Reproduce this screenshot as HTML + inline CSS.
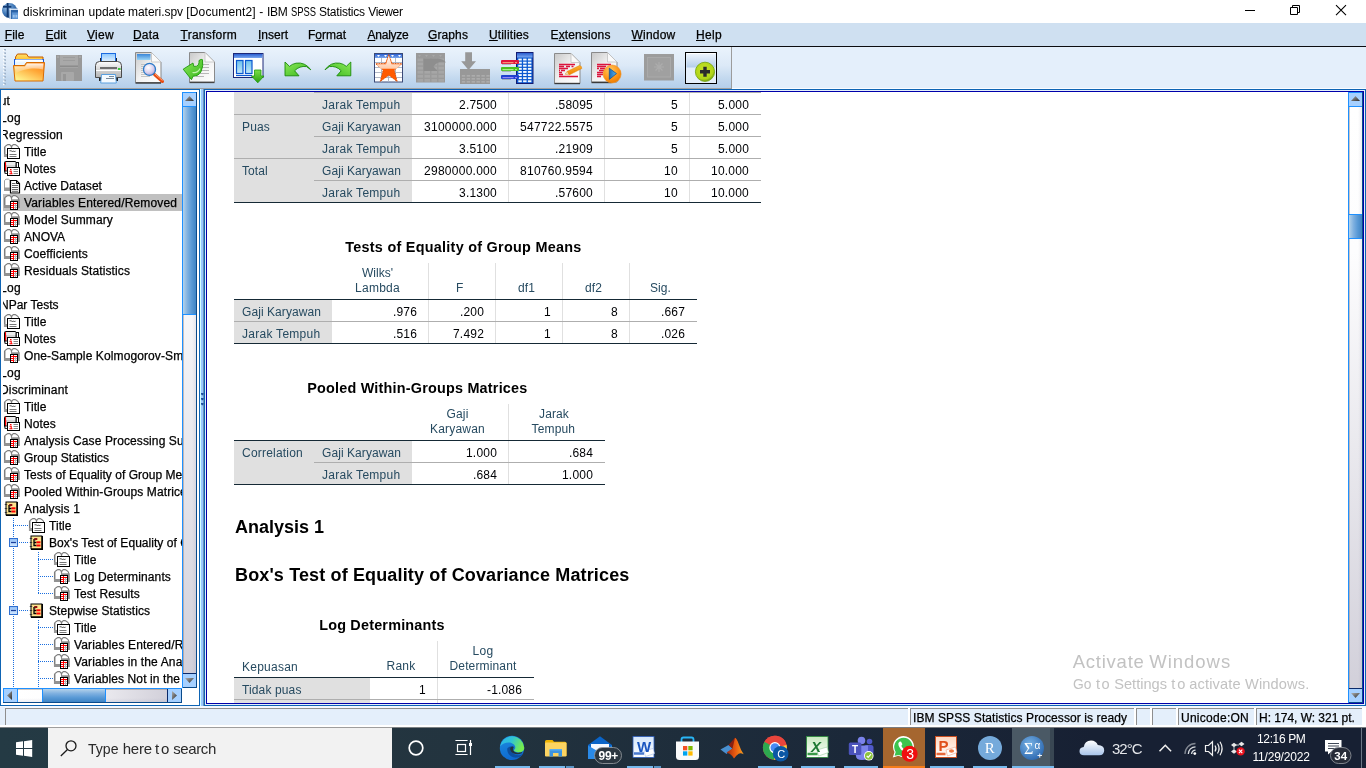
<!DOCTYPE html>
<html lang="en"><head><meta charset="utf-8"><title>diskriminan update materi.spv [Document2] - IBM SPSS Statistics Viewer</title>
<style>
html,body{margin:0;padding:0;}
body{width:1366px;height:768px;overflow:hidden;position:relative;background:#fff;font-family:"Liberation Sans",sans-serif;color:#000;}
.b{position:absolute;}
.t{position:absolute;white-space:pre;}
svg{position:absolute;overflow:visible;}
.clip{position:absolute;overflow:hidden;}
.m{font-size:12px;line-height:15px;}
.m u{text-decoration:underline;text-underline-offset:1px;}
.vsb{width:15px;background:#fff;box-sizing:border-box;border-left:1px solid #1e90ff;border-right:1px solid #0a4a8a;}
.vtr{left:0;width:13px;box-sizing:border-box;background:linear-gradient(90deg,rgba(120,100,90,.55) 0,rgba(255,255,255,0) 1.5px,rgba(255,255,255,0) 70%,rgba(120,120,150,.12) 100%),linear-gradient(180deg,#fff 0%,#fdfdfe 25%,#d2d0da 100%);}
.vth{left:0;width:13px;box-sizing:border-box;border-top:1px solid #1e90ff;border-bottom:1px solid #1e90ff;background:linear-gradient(90deg,#b4d2ea 0%,#7eb0e0 35%,#5a9ad6 65%,#3f84c4 100%);}
.sbtn{left:0;width:13px;height:15px;background:#a6d0ff;box-sizing:border-box;border-top:1px solid #1e90ff;border-bottom:1px solid #1e90ff;}
.sbtn.dn{border-top-color:#0a2a6a;border-bottom-color:#0a4a8a;height:15px;}
.sbtn svg{left:0;top:0;}
.hsb{height:15px;background:#fff;box-sizing:border-box;border-top:1px solid #1e90ff;border-bottom:1px solid #0a4a8a;}
.htr{top:0;height:13px;box-sizing:border-box;background:linear-gradient(180deg,rgba(120,100,90,.55) 0,rgba(255,255,255,0) 1.5px,rgba(255,255,255,0) 70%,rgba(120,120,150,.12) 100%),linear-gradient(90deg,#fff 0%,#fdfdfe 25%,#d2d0da 100%);}
.hth{top:0;height:13px;box-sizing:border-box;border-left:1px solid #1e90ff;border-right:1px solid #1e90ff;background:linear-gradient(180deg,#b4d2ea 0%,#7eb0e0 35%,#5a9ad6 65%,#3f84c4 100%);}
.sbtnh{top:0;width:15px;height:13px;background:#a6d0ff;box-sizing:border-box;border-left:1px solid #1e90ff;border-right:1px solid #1e90ff;}
.sbtnh.rt{border-left-color:#0a2a6a;border-right-color:#0a4a8a;}
.sbtnh svg{left:0;top:0;}
.j{-webkit-text-stroke:0.25px #000;}

</style></head>
<body>
<svg width="0" height="0" style="left:0;top:0"><defs><linearGradient id="arg" x1="0" y1="0" x2="1" y2="1"><stop offset="0" stop-color="#b0b0b0"/><stop offset="1" stop-color="#2a2a2a"/></linearGradient></defs></svg>
<!-- title bar -->
<div class="b" style="left:0px;top:0px;width:1366px;height:23px;background:#fff;"></div>
<svg style="left:2px;top:3px" width="16" height="16" viewBox="0 0 17 17"><defs><radialGradient id="tig" cx="35%" cy="30%" r="80%"><stop offset="0" stop-color="#9fc4ea"/><stop offset="0.55" stop-color="#3f78b8"/><stop offset="1" stop-color="#1d4a86"/></radialGradient></defs><circle cx="8" cy="8" r="8" fill="url(#tig)"/><rect x="5" y="0" width="2" height="15" fill="#123a72"/><rect x="1" y="3" width="9" height="2" fill="#123a72"/><rect x="8" y="6" width="9" height="11" fill="#2c63a6"/><rect x="8" y="6" width="9" height="1.3" fill="#e8f1fb"/><rect x="8" y="6" width="1.3" height="11" fill="#e8f1fb"/><rect x="10.5" y="10" width="6.5" height="7" fill="#5b93d2"/><rect x="11.5" y="12.5" width="2" height="3" fill="#9cc3ee"/><rect x="14.3" y="12.5" width="2" height="3" fill="#9cc3ee"/></svg>
<span class="t seg" style="left:23.10px;top:5.00px;font-size:12px;line-height:14px;letter-spacing:0.091px;">diskriminan</span>
<span class="t seg" style="left:88.50px;top:5.00px;font-size:12px;line-height:14px;letter-spacing:0.019px;">update</span>
<span class="t seg" style="left:128.00px;top:5.00px;font-size:12px;line-height:14px;letter-spacing:-0.028px;">materi.spv</span>
<span class="t seg" style="left:186.30px;top:5.00px;font-size:12px;line-height:14px;letter-spacing:0.137px;">[Document2]</span>
<span class="t seg" style="left:259.20px;top:5.00px;font-size:12px;line-height:14px;">-</span>
<span class="t seg" style="left:266.90px;top:5.00px;font-size:12px;line-height:14px;letter-spacing:-0.217px;">IBM</span>
<span class="t seg" style="left:291.00px;top:5.00px;font-size:12px;line-height:14px;transform:scaleX(0.781);transform-origin:0 0;">SPSS</span>
<span class="t seg" style="left:318.90px;top:5.00px;font-size:12px;line-height:14px;letter-spacing:-0.201px;">Statistics</span>
<span class="t seg" style="left:368.30px;top:5.00px;font-size:12px;line-height:14px;letter-spacing:-0.376px;">Viewer</span>
<svg style="left:1230px;top:0" width="136" height="23" viewBox="0 0 136 23" fill="none" stroke="#000" stroke-width="1"><path d="M15 10.500H25"/><path d="M60.500 7.500h7v7h-7z"/><path d="M62.500 7.500v-2h7v7h-2"/><path d="M106 5.200l10 10M116 5.200l-10 10" stroke-width="1.100"/></svg>
<!-- menu bar -->
<div class="b" style="left:0px;top:23px;width:1366px;height:23px;background:#cfe0f1;"></div>
<div class="b" style="left:0px;top:46px;width:1366px;height:1px;background:#0c0c10;"></div>
<span class="t m j" style="left:4.7px;top:28px;letter-spacing:0.166px"><u>F</u>ile</span>
<span class="t m j" style="left:45.5px;top:28px;letter-spacing:0.081px"><u>E</u>dit</span>
<span class="t m j" style="left:87px;top:28px;letter-spacing:0.248px"><u>V</u>iew</span>
<span class="t m j" style="left:133px;top:28px;letter-spacing:0.163px"><u>D</u>ata</span>
<span class="t m j" style="left:180.5px;top:28px;letter-spacing:0.258px"><u>T</u>ransform</span>
<span class="t m j" style="left:258px;top:28px;letter-spacing:-0.002px"><u>I</u>nsert</span>
<span class="t m j" style="left:308px;top:28px;letter-spacing:-0.001px">F<u>o</u>rmat</span>
<span class="t m j" style="left:367.5px;top:28px;letter-spacing:-0.242px"><u>A</u>nalyze</span>
<span class="t m j" style="left:428px;top:28px;letter-spacing:0.108px"><u>G</u>raphs</span>
<span class="t m j" style="left:489px;top:28px;letter-spacing:0.148px"><u>U</u>tilities</span>
<span class="t m j" style="left:550.5px;top:28px;letter-spacing:0.130px">E<u>x</u>tensions</span>
<span class="t m j" style="left:631.5px;top:28px;letter-spacing:0.220px"><u>W</u>indow</span>
<span class="t m j" style="left:696px;top:28px;letter-spacing:0.330px"><u>H</u>elp</span>
<!-- toolbar -->
<div class="b" style="left:0px;top:47px;width:1366px;height:42px;background:#e4effb;"></div>
<div class="b" style="left:0px;top:47px;width:731px;height:41px;background:linear-gradient(#eaf3fc 0%,#dce9f7 45%,#c4d9ef 75%,#b4cfeb 100%);"></div>
<div class="b" style="left:0px;top:88px;width:732px;height:1px;background:#a0a0a0;"></div>
<div class="b" style="left:731px;top:47px;width:1px;height:42px;background:#9c9c9c;"></div>
<div class="b" style="left:732px;top:88px;width:634px;height:1px;background:#fafcff;"></div>
<svg style="left:3px;top:48px" width="4" height="38" viewBox="0 0 4 38"><rect x="1" y="1.0" width="2" height="1.6" fill="#9fb2c8"/><rect x="0" y="2.0" width="1.5" height="1.2" fill="#fff"/><rect x="1" y="4.4" width="2" height="1.6" fill="#9fb2c8"/><rect x="0" y="5.4" width="1.5" height="1.2" fill="#fff"/><rect x="1" y="7.8" width="2" height="1.6" fill="#9fb2c8"/><rect x="0" y="8.8" width="1.5" height="1.2" fill="#fff"/><rect x="1" y="11.2" width="2" height="1.6" fill="#9fb2c8"/><rect x="0" y="12.2" width="1.5" height="1.2" fill="#fff"/><rect x="1" y="14.6" width="2" height="1.6" fill="#9fb2c8"/><rect x="0" y="15.6" width="1.5" height="1.2" fill="#fff"/><rect x="1" y="18.0" width="2" height="1.6" fill="#9fb2c8"/><rect x="0" y="19.0" width="1.5" height="1.2" fill="#fff"/><rect x="1" y="21.4" width="2" height="1.6" fill="#9fb2c8"/><rect x="0" y="22.4" width="1.5" height="1.2" fill="#fff"/><rect x="1" y="24.8" width="2" height="1.6" fill="#9fb2c8"/><rect x="0" y="25.8" width="1.5" height="1.2" fill="#fff"/><rect x="1" y="28.2" width="2" height="1.6" fill="#9fb2c8"/><rect x="0" y="29.2" width="1.5" height="1.2" fill="#fff"/><rect x="1" y="31.6" width="2" height="1.6" fill="#9fb2c8"/><rect x="0" y="32.6" width="1.5" height="1.2" fill="#fff"/><rect x="1" y="35.0" width="2" height="1.6" fill="#9fb2c8"/><rect x="0" y="36.0" width="1.5" height="1.2" fill="#fff"/></svg>
<!-- panel frames -->
<div class="b" style="left:0px;top:89px;width:1366px;height:617px;background:#fff;"></div>
<div class="b" style="left:0px;top:89px;width:200px;height:1px;background:#0e64b4;"></div>
<div class="b" style="left:0px;top:89px;width:1px;height:617px;background:#0e64b4;"></div>
<div class="b" style="left:199px;top:89px;width:1px;height:617px;background:#0e64b4;"></div>
<div class="b" style="left:0px;top:705px;width:200px;height:1px;background:#0e64b4;"></div>
<div class="b" style="left:200px;top:89px;width:1px;height:617px;background:#d4ffff;"></div>
<div class="b" style="left:201px;top:89px;width:2px;height:617px;background:#98c8ff;"></div>
<div class="b" style="left:203px;top:89px;width:1px;height:617px;background:#6a8fb8;"></div>
<div class="b" style="left:200px;top:88px;width:4px;height:1px;background:#a0a0a0;"></div>
<svg style="left:200px;top:391px" width="5" height="14" viewBox="0 0 5 14"><path d="M1 2h2.6v1.200l-1.300 1.300l-1.300-1.300z" fill="#1d4f9f"/><path d="M1 7h2.6v1.200l-1.300 1.300l-1.300-1.300z" fill="#1d4f9f"/><path d="M1 12h2.6v1.200l-1.300 1.300l-1.300-1.300z" fill="#1d4f9f"/></svg>
<div class="b" style="left:204px;top:89px;width:1162px;height:1px;background:#0e64b4;"></div>
<div class="b" style="left:204px;top:89px;width:1px;height:617px;background:#0e64b4;"></div>
<div class="b" style="left:1365px;top:89px;width:1px;height:617px;background:#0e64b4;"></div>
<div class="b" style="left:204px;top:705px;width:1162px;height:1px;background:#0e64b4;"></div>
<div class="b" style="left:205px;top:90px;width:1160px;height:1px;background:#e4effb;"></div>
<div class="b" style="left:205px;top:90px;width:1px;height:615px;background:#e4effb;"></div>
<div class="b" style="left:1364px;top:90px;width:1px;height:615px;background:#e4effb;"></div>
<div class="b" style="left:205px;top:704px;width:1160px;height:1px;background:#e4effb;"></div>
<div class="b" style="left:206px;top:91px;width:1158px;height:1px;background:#0000aa;"></div>
<div class="b" style="left:206px;top:91px;width:1px;height:613px;background:#0000aa;"></div>
<div class="b" style="left:1363px;top:91px;width:1px;height:613px;background:#0000aa;"></div>
<div class="b" style="left:206px;top:703px;width:1158px;height:1px;background:#0000aa;"></div>
<!-- status bar -->
<div class="b" style="left:0px;top:706px;width:1366px;height:21px;background:#fff;"></div>
<div class="b" style="left:0px;top:706px;width:1366px;height:2px;background:#f4f8fe;"></div>
<div class="b" style="left:0px;top:707px;width:5px;height:18px;background:#e4effb;"></div>
<div class="b" style="left:5px;top:708px;width:903px;height:17px;background:#e4effb;border-top:1px solid #8e8e8e;border-left:1px solid #8e8e8e;box-sizing:border-box;"></div>
<div class="b" style="left:910px;top:708px;width:224px;height:17px;background:#e4effb;border-top:1px solid #8e8e8e;border-left:1px solid #8e8e8e;box-sizing:border-box;"></div>
<div class="b" style="left:1136px;top:708px;width:14px;height:17px;background:#e4effb;border-top:1px solid #8e8e8e;border-left:1px solid #8e8e8e;box-sizing:border-box;"></div>
<div class="b" style="left:1152px;top:708px;width:24px;height:17px;background:#e4effb;border-top:1px solid #8e8e8e;border-left:1px solid #8e8e8e;box-sizing:border-box;"></div>
<div class="b" style="left:1178px;top:708px;width:76px;height:17px;background:#e4effb;border-top:1px solid #8e8e8e;border-left:1px solid #8e8e8e;box-sizing:border-box;"></div>
<div class="b" style="left:1256px;top:708px;width:106px;height:17px;background:#e4effb;border-top:1px solid #8e8e8e;border-left:1px solid #8e8e8e;box-sizing:border-box;"></div>
<span class="t j" style="left:913.00px;top:711.00px;font-size:12px;line-height:14px;letter-spacing:0.086px;">IBM SPSS Statistics Processor is ready</span>
<span class="t j" style="left:1181.00px;top:711.00px;font-size:12px;line-height:14px;letter-spacing:0.264px;">Unicode:ON</span>
<span class="t j" style="left:1259.00px;top:711.00px;font-size:12px;line-height:14px;letter-spacing:-0.040px;">H: 174, W: 321 pt.</span>
<!-- toolbar icons -->
<svg style="left:0;top:0" width="732" height="90" viewBox="0 0 732 90"><defs><linearGradient id="fg1" x1="0" y1="0" x2="0" y2="1"><stop offset="0" stop-color="#ffe070"/><stop offset="1" stop-color="#ffae00"/></linearGradient><linearGradient id="fg2" x1="1" y1="0" x2="0.3" y2="1"><stop offset="0" stop-color="#ff7a10"/><stop offset="0.45" stop-color="#ffa838"/><stop offset="1" stop-color="#fff08a"/></linearGradient><linearGradient id="fg3" x1="0" y1="0" x2="0" y2="1"><stop offset="0" stop-color="#fff" stop-opacity="0.9"/><stop offset="1" stop-color="#fff" stop-opacity="0"/></linearGradient><linearGradient id="pb" x1="0" y1="0" x2="0" y2="1"><stop offset="0" stop-color="#8cc8ff"/><stop offset="1" stop-color="#f4faff"/></linearGradient><linearGradient id="pg" x1="0" y1="0" x2="0" y2="1"><stop offset="0" stop-color="#fdfdfd"/><stop offset="0.5" stop-color="#d6d6d6"/><stop offset="1" stop-color="#b4b4b4"/></linearGradient><linearGradient id="dg" x1="0" y1="0" x2="1" y2="1"><stop offset="0" stop-color="#c8c8c8"/><stop offset="0.5" stop-color="#f2f2f2"/><stop offset="1" stop-color="#ffffff"/></linearGradient><linearGradient id="bh" x1="0" y1="0" x2="0" y2="1"><stop offset="0" stop-color="#3a86d8"/><stop offset="1" stop-color="#9ad4f6"/></linearGradient><radialGradient id="lens" cx="40%" cy="35%" r="70%"><stop offset="0" stop-color="#fff"/><stop offset="0.6" stop-color="#d8d0ee"/><stop offset="1" stop-color="#a8a0d8"/></radialGradient><linearGradient id="gr" x1="0" y1="0" x2="1" y2="1"><stop offset="0" stop-color="#8eea5a"/><stop offset="1" stop-color="#34b41a"/></linearGradient><linearGradient id="gr2" x1="0" y1="0" x2="0" y2="1"><stop offset="0" stop-color="#7be048"/><stop offset="1" stop-color="#2aa010"/></linearGradient><linearGradient id="bx" x1="0" y1="0" x2="0" y2="1"><stop offset="0" stop-color="#6cc0ec"/><stop offset="1" stop-color="#c4e8f8"/></linearGradient><linearGradient id="st1" x1="0" y1="0" x2="0" y2="1"><stop offset="0" stop-color="#fff"/><stop offset="1" stop-color="#ffc8a4"/></linearGradient><linearGradient id="thd" x1="0" y1="0" x2="0" y2="1"><stop offset="0" stop-color="#2a5ed0"/><stop offset="1" stop-color="#7aa8f0"/></linearGradient><radialGradient id="og" cx="40%" cy="30%" r="75%"><stop offset="0" stop-color="#ffc860"/><stop offset="0.6" stop-color="#ff9618"/><stop offset="1" stop-color="#e87800"/></radialGradient><linearGradient id="pl" x1="0" y1="0" x2="1" y2="0"><stop offset="0" stop-color="#1a6ab8"/><stop offset="1" stop-color="#5ab4ec"/></linearGradient><linearGradient id="pn" x1="0" y1="0" x2="0.3" y2="1"><stop offset="0" stop-color="#ffc040"/><stop offset="1" stop-color="#f08000"/></linearGradient><radialGradient id="lm" cx="45%" cy="40%" r="60%"><stop offset="0" stop-color="#c8e428"/><stop offset="0.8" stop-color="#b0d418"/><stop offset="1" stop-color="#6c9c10"/></radialGradient><linearGradient id="btn" x1="0" y1="0" x2="0" y2="1"><stop offset="0" stop-color="#eef5fd"/><stop offset="1" stop-color="#b4cdea"/></linearGradient></defs><g><path d="M15.500 64V57l2-3h9l2 3h14.500v7z" fill="url(#fg1)" stroke="#c45a00"/><rect x="14.500" y="59.500" width="29" height="6" fill="#eaf6ff" stroke="#1a5ad8"/><rect x="15.500" y="59.500" width="27" height="2" fill="#fff"/><path d="M13.500 65.500h11l2-3h18l-1.500 18.500h-28z" fill="url(#fg2)" stroke="#d86a00"/><path d="M14.500 66.500h10.500l2-3h16.500l-.5 6c-8 -2 -20 -1 -27 4z" fill="url(#fg3)"/></g><g><rect x="56" y="55" width="26" height="26" fill="#999"/><rect x="60" y="55" width="18" height="10" fill="#a9a9a9"/><path d="M63 57.500h12M63 60.500h12" stroke="#9c9c9c"/><path d="M60 66.500h18" stroke="#8c8c8c"/><path d="M60 67.500h18" stroke="#a4a4a4"/><rect x="61" y="72" width="13" height="9" rx="1" fill="#a8a8a8"/><rect x="63" y="74" width="3" height="7" fill="#969696"/><rect x="57" y="56" width="2" height="2" fill="#a6a6a6"/><rect x="79" y="56" width="2" height="2" fill="#a6a6a6"/></g><g><rect x="100" y="58" width="2" height="5" fill="#222"/><rect x="115" y="58" width="2" height="5" fill="#222"/><rect x="101.500" y="53.500" width="14" height="10" fill="url(#pb)" stroke="#1a6ae0"/><path d="M95.500 77.500V65.500q0-4 4-4h18q4 0 4 4V77.500z" fill="url(#pg)" stroke="#4a4a4a"/><path d="M96 70.500h25" stroke="#fff"/><rect x="100" y="67" width="17" height="2" fill="#6e6e6e"/><rect x="118" y="68" width="2.500" height="2" fill="#3cc83c"/><rect x="99" y="78" width="3" height="3" fill="#222"/><rect x="115" y="78" width="3" height="3" fill="#222"/><path d="M101.500 74.500h14l.8 8.500h-15.600z" fill="#f4faff" stroke="#5aa0e0"/><path d="M109 76.500h5M106 78.500h8" stroke="#7a8a9a"/></g><g><path d="M135.500 52.500h16l9.500 9.500v20.500h-25.500z" fill="url(#dg)" stroke="#8a8a8a"/><path d="M135.500 83h25.500" stroke="#3a3a3a" stroke-width="1.400"/><path d="M151.500 52.500v9.500h9.500z" fill="#fafafa" stroke="#c0c0c0" stroke-width="0.800"/><rect x="137" y="54" width="13.500" height="6" fill="url(#bh)"/><path d="M141 64.500h6M141 66.500h6M141 68.500h6M141 70.500h6M141 72.500h6M141 74.500h6M141 76.500h9" stroke="#b8b8b8" stroke-width="0.800"/><path d="M154.500 74.500L162.500 81.500" stroke="#e84a10" stroke-width="3" stroke-linecap="round"/><path d="M155 74L162.500 80.500" stroke="#ffb080" stroke-width="0.900"/><circle cx="149.500" cy="69.400" r="6" fill="url(#lens)" stroke="#2a7ac8" stroke-width="1.300"/></g><g><path d="M189.500 52.500h15.500l9.500 9.500v20h-25z" fill="url(#dg)" stroke="#8a8a8a"/><path d="M189.500 82.500h25" stroke="#444" stroke-width="1.300"/><path d="M205 52.500v9.500h9.500z" fill="#fafafa" stroke="#c0c0c0" stroke-width="0.800"/><path d="M200 64.500h9M200 67.500h9M200 70.500h9M200 73.500h9M196 76.500h8" stroke="#b0b0b0" stroke-width="0.900"/><path d="M199 60.500q2.500-1.800 3.500-.8q1.200 6-1.500 12q-2.500 4.500-8 4.500l-1.500 3.500l-8.300-10.500l9.800-6.200l.8 3.400q3 .5 4.500-1.500q1-2 .7-4.400z" fill="url(#gr)" stroke="#1f9a0c" stroke-width="0.900"/><path d="M192.500 72.500q5 1 7.500-4" stroke="#d8ffc8" stroke-width="1.200" fill="none" opacity="0.800"/></g><g><rect x="233.500" y="53.500" width="29.500" height="24" fill="#fff" stroke="#1c2878"/><rect x="234" y="54" width="28.500" height="4" fill="url(#thd)"/><rect x="236.500" y="60.500" width="6.500" height="13" fill="url(#bx)" stroke="#0a58d0" stroke-width="1.200"/><rect x="245.500" y="60.500" width="6.500" height="13" fill="url(#bx)" stroke="#0a58d0" stroke-width="1.200"/><path d="M236 75.500h16" stroke="#0a58d0" stroke-width="1.200"/><path d="M254.500 70h6.500v6h3l-6.200 6.800l-6.300-6.800h3z" fill="url(#gr2)" stroke="#1f9a0c" stroke-width="0.800"/></g><path d="M285 62V75.800H299L294.600 70.800Q299.500 65.600 306.500 66.600L310.800 69.800Q305 61.800 296 63.200Q292 64 289.500 66.400z" fill="url(#gr)" stroke="#1a8a08" stroke-width="0.900" stroke-linejoin="round"/><g transform="translate(635.800 0) scale(-1 1)"><path d="M285 62V75.800H299L294.600 70.800Q299.500 65.600 306.500 66.600L310.800 69.800Q305 61.800 296 63.200Q292 64 289.500 66.400z" fill="url(#gr)" stroke="#1a8a08" stroke-width="0.900" stroke-linejoin="round"/></g><g><rect x="374.500" y="53.500" width="28" height="28.500" fill="#fff" stroke="#3a4a78"/><rect x="375" y="54" width="27" height="4" fill="url(#thd)"/><path d="M377 55h3l-1.500 2zM384 55h3l-1.500 2zM391 55h3l-1.500 2zM398 55h3l-1.500 2z" fill="#fff"/><path d="M381.500 58v24M388.500 58v24M395.500 58v24M375 62.500h27M375 67.500h27M375 72.500h27M375 77.500h27" stroke="#a8b0c0" stroke-width="0.900"/><path d="M388.800 54.500L392 63.600L402 63.700L394.200 70L397.200 81.500L388.800 75.200L380.200 81.500L383.200 70L375.600 63.700L385.500 63.600z" fill="#ff5a00" stroke="#d24800" stroke-width="0.800" stroke-dasharray="1.500 1"/><path d="M388.800 55.500L391.600 64.200L401 64.300L396.500 68.800H381L376.600 64.300L386 64.200z" fill="url(#st1)"/></g><g><rect x="416" y="53" width="29" height="29.500" fill="#9a9a9a"/><rect x="417.5" y="58.5" width="5.500" height="2.800" fill="#a6a6a6"/><rect x="424.5" y="58.5" width="5.500" height="2.800" fill="#a6a6a6"/><rect x="431.5" y="58.5" width="5.500" height="2.800" fill="#a6a6a6"/><rect x="438.5" y="58.5" width="5.500" height="2.800" fill="#a6a6a6"/><rect x="417.5" y="62.6" width="5.500" height="2.800" fill="#a6a6a6"/><rect x="424.5" y="62.6" width="5.500" height="2.800" fill="#a6a6a6"/><rect x="431.5" y="62.6" width="5.500" height="2.800" fill="#a6a6a6"/><rect x="438.5" y="62.6" width="5.500" height="2.800" fill="#a6a6a6"/><rect x="417.5" y="66.7" width="5.500" height="2.800" fill="#a6a6a6"/><rect x="424.5" y="66.7" width="5.500" height="2.800" fill="#a6a6a6"/><rect x="431.5" y="66.7" width="5.500" height="2.800" fill="#a6a6a6"/><rect x="438.5" y="66.7" width="5.500" height="2.800" fill="#a6a6a6"/><rect x="417.5" y="70.8" width="5.500" height="2.800" fill="#a6a6a6"/><rect x="424.5" y="70.8" width="5.500" height="2.800" fill="#a6a6a6"/><rect x="431.5" y="70.8" width="5.500" height="2.800" fill="#a6a6a6"/><rect x="438.5" y="70.8" width="5.500" height="2.800" fill="#a6a6a6"/><rect x="417.5" y="74.9" width="5.500" height="2.800" fill="#a6a6a6"/><rect x="424.5" y="74.9" width="5.500" height="2.800" fill="#a6a6a6"/><rect x="431.5" y="74.9" width="5.500" height="2.800" fill="#a6a6a6"/><rect x="438.5" y="74.9" width="5.500" height="2.800" fill="#a6a6a6"/><rect x="417.5" y="79.0" width="5.500" height="2.800" fill="#a6a6a6"/><rect x="424.5" y="79.0" width="5.500" height="2.800" fill="#a6a6a6"/><rect x="431.5" y="79.0" width="5.500" height="2.800" fill="#a6a6a6"/><rect x="438.5" y="79.0" width="5.500" height="2.800" fill="#a6a6a6"/><path d="M423.500 58.500h12q8 0 10.500 4q-8-2.500-12.500 4l4 4.500h-14z" fill="#8e8e8e"/><path d="M418 55h3l-1.500 2zM425 55h3l-1.500 2zM432 55h3l-1.500 2zM439 55h3l-1.500 2z" fill="#a8a8a8"/></g><g fill="#989898"><path d="M465.200 52.200h6.800v9h4l-7.500 8.800l-7.300-8.800h4z"/><rect x="460" y="69" width="30" height="15"/></g><rect x="461.8" y="75.0" width="3.400" height="1.700" fill="#acacac"/><rect x="466.7" y="75.0" width="3.400" height="1.700" fill="#acacac"/><rect x="471.6" y="75.0" width="3.400" height="1.700" fill="#acacac"/><rect x="476.5" y="75.0" width="3.400" height="1.700" fill="#acacac"/><rect x="481.4" y="75.0" width="3.400" height="1.700" fill="#acacac"/><rect x="486.3" y="75.0" width="3.400" height="1.700" fill="#acacac"/><rect x="461.8" y="78.0" width="3.400" height="1.700" fill="#acacac"/><rect x="466.7" y="78.0" width="3.400" height="1.700" fill="#acacac"/><rect x="471.6" y="78.0" width="3.400" height="1.700" fill="#acacac"/><rect x="476.5" y="78.0" width="3.400" height="1.700" fill="#acacac"/><rect x="481.4" y="78.0" width="3.400" height="1.700" fill="#acacac"/><rect x="486.3" y="78.0" width="3.400" height="1.700" fill="#acacac"/><rect x="461.8" y="81.0" width="3.400" height="1.700" fill="#acacac"/><rect x="466.7" y="81.0" width="3.400" height="1.700" fill="#acacac"/><rect x="471.6" y="81.0" width="3.400" height="1.700" fill="#acacac"/><rect x="476.5" y="81.0" width="3.400" height="1.700" fill="#acacac"/><rect x="481.4" y="81.0" width="3.400" height="1.700" fill="#acacac"/><rect x="486.3" y="81.0" width="3.400" height="1.700" fill="#acacac"/><g><rect x="516.500" y="52.500" width="16.500" height="31" fill="#0a58d0" stroke="#141c70"/><rect x="517" y="53" width="15.500" height="4.500" fill="url(#thd)"/><rect x="518.3" y="58.6" width="3.500" height="1.900" fill="#f4faff"/><rect x="523.1" y="58.6" width="3.500" height="1.900" fill="#f4faff"/><rect x="527.9" y="58.6" width="3.500" height="1.900" fill="#f4faff"/><rect x="518.3" y="61.7" width="3.500" height="1.900" fill="#f4faff"/><rect x="523.1" y="61.7" width="3.500" height="1.900" fill="#f4faff"/><rect x="527.9" y="61.7" width="3.500" height="1.900" fill="#f4faff"/><rect x="518.3" y="64.8" width="3.500" height="1.900" fill="#f4faff"/><rect x="523.1" y="64.8" width="3.500" height="1.900" fill="#f4faff"/><rect x="527.9" y="64.8" width="3.500" height="1.900" fill="#f4faff"/><rect x="518.3" y="67.9" width="3.500" height="1.900" fill="#f4faff"/><rect x="523.1" y="67.9" width="3.500" height="1.900" fill="#f4faff"/><rect x="527.9" y="67.9" width="3.500" height="1.900" fill="#f4faff"/><rect x="518.3" y="71.0" width="3.500" height="1.900" fill="#f4faff"/><rect x="523.1" y="71.0" width="3.500" height="1.900" fill="#f4faff"/><rect x="527.9" y="71.0" width="3.500" height="1.900" fill="#f4faff"/><rect x="518.3" y="74.1" width="3.500" height="1.900" fill="#f4faff"/><rect x="523.1" y="74.1" width="3.500" height="1.900" fill="#f4faff"/><rect x="527.9" y="74.1" width="3.500" height="1.900" fill="#f4faff"/><rect x="518.3" y="77.2" width="3.500" height="1.900" fill="#f4faff"/><rect x="523.1" y="77.2" width="3.500" height="1.900" fill="#f4faff"/><rect x="527.9" y="77.2" width="3.500" height="1.900" fill="#f4faff"/><rect x="518.3" y="80.3" width="3.500" height="1.900" fill="#f4faff"/><rect x="523.1" y="80.3" width="3.500" height="1.900" fill="#f4faff"/><rect x="527.9" y="80.3" width="3.500" height="1.900" fill="#f4faff"/><rect x="501" y="60" width="18" height="4" rx="1" fill="#e0143c"/><path d="M502.500 62.7h11M515 62.7h2" stroke="#ffc090" stroke-width="0.900"/><path d="M502 64.4h9" stroke="#555" stroke-width="0.600" opacity="0.600"/><rect x="501" y="67" width="18" height="4" rx="1" fill="#4cc020"/><path d="M502.500 69.7h11M515 69.7h2" stroke="#c8ffb0" stroke-width="0.900"/><path d="M502 71.4h9" stroke="#555" stroke-width="0.600" opacity="0.600"/><rect x="501" y="75" width="18" height="4" rx="1" fill="#2040d0"/><path d="M502.500 77.7h11M515 77.7h2" stroke="#c0a0ff" stroke-width="0.900"/><path d="M502 79.4h9" stroke="#555" stroke-width="0.600" opacity="0.600"/></g><g><path d="M554.500 53.500h16.500l9 9v21h-25.500z" fill="url(#dg)" stroke="#8a8a8a"/><path d="M554.500 83.500h25.500" stroke="#3a3a3a" stroke-width="1.400"/><path d="M571 53.500v9h9z" fill="#fafafa" stroke="#c0c0c0" stroke-width="0.800"/><path d="M559 64.500h16M559 66.500h5M566 66.500h4M571.500 66.500h2M559 68.500h9M559 70.500h1M561 70.500h4M559 72.500h3M559 74.500h4M559 76.500h19" stroke="#dc143c" stroke-width="1.300"/><path d="M565.300 74.200L567 71.500L579.500 65.500Q582 66 581.800 68.500L569 75z" fill="url(#pn)" stroke="#e08000" stroke-width="0.500"/><path d="M565.300 74.200L567 71.500L569 75z" fill="#e8d8b0"/></g><g><path d="M591.500 52.500h16l9.500 9.500v20h-25.500z" fill="url(#dg)" stroke="#8a8a8a"/><path d="M591.500 82.500h20" stroke="#3a3a3a" stroke-width="1.400"/><path d="M607.500 52.500v9.500h9.500z" fill="#fafafa" stroke="#c0c0c0" stroke-width="0.800"/><path d="M597 64.500h14M597 66.500h9M597 68.500h2M600 68.500h5M599 70.500h5M597 72.500h6M597 74.500h6M597 76.500h4" stroke="#dc143c" stroke-width="1.300"/><circle cx="612.100" cy="74" r="9" fill="url(#og)" stroke="#f09020" stroke-width="0.600"/><path d="M609.300 68.200L616.500 73.600L609.300 79.400z" fill="url(#pl)" stroke="#0a4a90" stroke-width="0.700"/></g><g><rect x="644" y="54" width="30" height="26.500" fill="#9c9c9c"/><rect x="647.500" y="57.500" width="23" height="19.500" fill="#a0a0a0" stroke="#aaaaaa"/><path d="M659 62v10M654 67h10M655.500 63.500l7 7M662.500 63.500l-7 7" stroke="#acacac" stroke-width="1.200"/></g><g><rect x="685.500" y="52.500" width="31" height="31" fill="#e4effb" stroke="#000"/><rect x="686.500" y="53.500" width="29" height="14" fill="url(#btn)"/><path d="M686.500 53.500h29" stroke="#fff"/><circle cx="705" cy="71.800" r="9.600" fill="url(#lm)" stroke="#7aa814" stroke-width="0.900"/><path d="M703.300 66.800h3.400v3.300h3.300v3.400h-3.300v3.300h-3.400v-3.300h-3.300v-3.400h3.300z" fill="#2c2c2c"/></g></svg>
<!-- outline tree icons -->
<svg width="0" height="0" style="left:0;top:0"><defs><linearGradient id="hg" x1="0" y1="0" x2="0" y2="1"><stop offset="0" stop-color="#8fbef6"/><stop offset="1" stop-color="#d4e8ff"/></linearGradient></defs></svg>
<!-- outline tree -->
<div class="clip" style="left:3px;top:92px;width:179px;height:596px;background:#fff">
<div class="b" style="left:0px;top:102px;width:179px;height:17px;background:#c0c0c0;"></div>
<div class="b" style="left:10px;top:426px;width:1px;height:170px;background:repeating-linear-gradient(180deg,#1a6fe0 0,#1a6fe0 1px,transparent 1px,transparent 2px)"></div>
<div class="b" style="left:35px;top:460px;width:1px;height:42px;background:repeating-linear-gradient(180deg,#1a6fe0 0,#1a6fe0 1px,transparent 1px,transparent 2px)"></div>
<div class="b" style="left:35px;top:528px;width:1px;height:68px;background:repeating-linear-gradient(180deg,#1a6fe0 0,#1a6fe0 1px,transparent 1px,transparent 2px)"></div>
<div class="b" style="left:10px;top:433px;width:15px;height:1px;background:repeating-linear-gradient(90deg,#1a6fe0 0,#1a6fe0 1px,transparent 1px,transparent 2px)"></div>
<div class="b" style="left:16px;top:450px;width:9px;height:1px;background:repeating-linear-gradient(90deg,#1a6fe0 0,#1a6fe0 1px,transparent 1px,transparent 2px)"></div>
<div class="b" style="left:35px;top:467px;width:15px;height:1px;background:repeating-linear-gradient(90deg,#1a6fe0 0,#1a6fe0 1px,transparent 1px,transparent 2px)"></div>
<div class="b" style="left:35px;top:484px;width:15px;height:1px;background:repeating-linear-gradient(90deg,#1a6fe0 0,#1a6fe0 1px,transparent 1px,transparent 2px)"></div>
<div class="b" style="left:35px;top:501px;width:15px;height:1px;background:repeating-linear-gradient(90deg,#1a6fe0 0,#1a6fe0 1px,transparent 1px,transparent 2px)"></div>
<div class="b" style="left:16px;top:518px;width:9px;height:1px;background:repeating-linear-gradient(90deg,#1a6fe0 0,#1a6fe0 1px,transparent 1px,transparent 2px)"></div>
<div class="b" style="left:35px;top:535px;width:15px;height:1px;background:repeating-linear-gradient(90deg,#1a6fe0 0,#1a6fe0 1px,transparent 1px,transparent 2px)"></div>
<div class="b" style="left:35px;top:552px;width:15px;height:1px;background:repeating-linear-gradient(90deg,#1a6fe0 0,#1a6fe0 1px,transparent 1px,transparent 2px)"></div>
<div class="b" style="left:35px;top:569px;width:15px;height:1px;background:repeating-linear-gradient(90deg,#1a6fe0 0,#1a6fe0 1px,transparent 1px,transparent 2px)"></div>
<div class="b" style="left:35px;top:586px;width:15px;height:1px;background:repeating-linear-gradient(90deg,#1a6fe0 0,#1a6fe0 1px,transparent 1px,transparent 2px)"></div>
<span class="t j" style="left:-29.30px;top:2.00px;font-size:12px;line-height:14px;">Output</span>
<span class="t j" style="left:-3.00px;top:19.00px;font-size:12px;line-height:14px;letter-spacing:0.326px;">Log</span>
<span class="t j" style="left:-3.00px;top:36.00px;font-size:12px;line-height:14px;letter-spacing:0.230px;">Regression</span>
<svg style="left:1px;top:52px" width="16" height="16" viewBox="0 0 16 16"><path d="M0.5 12.500V3.200L2 1.700 3.800.6h1.900L7 1.800 7.500 3.600 8 1.800 9.300.6h1.900L13 1.700 14.500 3.200V12.500z" fill="#fff" stroke="#7e7e7e" stroke-width="1.100"/><path d="M7.500 3.500V6" stroke="#8c8c8c"/><rect x="0" y="10" width="15" height="3" fill="#9a9a9a"/><rect x="1" y="3" width="1" height="7" fill="#c4c4c4"/><rect x="3.500" y="4.500" width="12" height="10" fill="#fff" stroke="#000"/><path d="M5.500 6.800h2l1 1.200 1-1.200 1 1.200 1-1.200" stroke="#444" fill="none" stroke-width="0.9"/><path d="M5.500 10.500h7M5.500 12.500h7" stroke="#777"/></svg>
<span class="t j" style="left:21.00px;top:53.00px;font-size:12px;line-height:14px;letter-spacing:0.066px;">Title</span>
<svg style="left:1px;top:69px" width="16" height="16" viewBox="0 0 16 16"><rect x="12" y="1.500" width="2.500" height="9" fill="#fff" stroke="#000"/><rect x="0.500" y="0.500" width="11.500" height="11" rx="1" fill="#d4d4d4" stroke="#000"/><rect x="1" y="1" width="1.200" height="9.500" fill="#f00"/><rect x="2.200" y="1" width="9" height="3" fill="#ececec"/><rect x="1" y="10" width="3" height="2.500" fill="#fff" stroke="#000" stroke-width="0.8"/><rect x="3.500" y="6.500" width="12" height="8" fill="#fff" stroke="#000"/><rect x="6" y="8" width="1.500" height="1.200" fill="#f00"/><path d="M5.500 10.200h1.700v2.300M5.300 12.700h3.200" stroke="#f00" stroke-width="1.100" fill="none"/><path d="M9.500 8.500h4.500M9.500 10.500h4.500M9.500 12.500h4.500" stroke="#888"/></svg>
<span class="t j" style="left:21.00px;top:70.00px;font-size:12px;line-height:14px;letter-spacing:0.130px;">Notes</span>
<svg style="left:1px;top:86px" width="16" height="16" viewBox="0 0 16 16"><path d="M0.500 12.500V2.500L2 1.200h2.500L6 2.500V12.500z" fill="#fff" stroke="#a0a0a0"/><rect x="0" y="9.500" width="7" height="3.500" fill="#9a9a9a"/><path d="M6.500 2.500h6l3 3v9.500h-9z" fill="#fff" stroke="#000" stroke-width="1.200"/><path d="M12.500 2.500v3h3" fill="none" stroke="#000"/><path d="M8 5.500h3.500M8 7.500h6M8 9.500h6M8 11.500h6M8 13.300h6" stroke="#555" stroke-width="0.9"/></svg>
<span class="t j" style="left:21.00px;top:87.00px;font-size:12px;line-height:14px;letter-spacing:0.045px;">Active Dataset</span>
<svg style="left:1px;top:103px" width="16" height="16" viewBox="0 0 16 16"><path d="M0.500 12.500V3.200L2 1.700 3.800.6h1.900L7 1.800 7.500 3.600 8 1.800 9.300.6h1.900L13 1.700 14.500 3.200V12.500z" fill="#fff" stroke="#7e7e7e" stroke-width="1.100"/><path d="M7.500 3.500V6" stroke="#8c8c8c"/><rect x="7" y="4.300" width="8.800" height="8.700" fill="#8e8e8e"/><rect x="0" y="10" width="8" height="3" fill="#929292"/><rect x="1" y="3" width="1" height="7" fill="#c4c4c4"/><rect x="6" y="6" width="8" height="9" fill="#000"/><rect x="7" y="7" width="6" height="7" fill="#fff"/><rect x="9" y="7" width="1" height="7" fill="#f00"/><path d="M7 8.500h6M7 10.500h2M7 12.500h2" stroke="#f00"/><path d="M10 10.500h3M10 12.500h3" stroke="#b0b0b0"/><rect x="11" y="9" width="1" height="5" fill="#b8b8b8"/></svg>
<span class="t j" style="left:21.00px;top:104.00px;font-size:12px;line-height:14px;letter-spacing:0.157px;">Variables Entered/Removed</span>
<svg style="left:1px;top:120px" width="16" height="16" viewBox="0 0 16 16"><path d="M0.500 12.500V3.200L2 1.700 3.800.6h1.900L7 1.800 7.500 3.600 8 1.800 9.300.6h1.900L13 1.700 14.500 3.200V12.500z" fill="#fff" stroke="#7e7e7e" stroke-width="1.100"/><path d="M7.500 3.500V6" stroke="#8c8c8c"/><rect x="7" y="4.300" width="8.800" height="8.700" fill="#8e8e8e"/><rect x="0" y="10" width="8" height="3" fill="#929292"/><rect x="1" y="3" width="1" height="7" fill="#c4c4c4"/><rect x="6" y="6" width="8" height="9" fill="#000"/><rect x="7" y="7" width="6" height="7" fill="#fff"/><rect x="9" y="7" width="1" height="7" fill="#f00"/><path d="M7 8.500h6M7 10.500h2M7 12.500h2" stroke="#f00"/><path d="M10 10.500h3M10 12.500h3" stroke="#b0b0b0"/><rect x="11" y="9" width="1" height="5" fill="#b8b8b8"/></svg>
<span class="t j" style="left:21.00px;top:121.00px;font-size:12px;line-height:14px;letter-spacing:0.126px;">Model Summary</span>
<svg style="left:1px;top:137px" width="16" height="16" viewBox="0 0 16 16"><path d="M0.500 12.500V3.200L2 1.700 3.800.6h1.900L7 1.800 7.500 3.600 8 1.800 9.300.6h1.900L13 1.700 14.500 3.200V12.500z" fill="#fff" stroke="#7e7e7e" stroke-width="1.100"/><path d="M7.500 3.500V6" stroke="#8c8c8c"/><rect x="7" y="4.300" width="8.800" height="8.700" fill="#8e8e8e"/><rect x="0" y="10" width="8" height="3" fill="#929292"/><rect x="1" y="3" width="1" height="7" fill="#c4c4c4"/><rect x="6" y="6" width="8" height="9" fill="#000"/><rect x="7" y="7" width="6" height="7" fill="#fff"/><rect x="9" y="7" width="1" height="7" fill="#f00"/><path d="M7 8.500h6M7 10.500h2M7 12.500h2" stroke="#f00"/><path d="M10 10.500h3M10 12.500h3" stroke="#b0b0b0"/><rect x="11" y="9" width="1" height="5" fill="#b8b8b8"/></svg>
<span class="t j" style="left:21.00px;top:138.00px;font-size:12px;line-height:14px;">ANOVA</span>
<svg style="left:1px;top:154px" width="16" height="16" viewBox="0 0 16 16"><path d="M0.500 12.500V3.200L2 1.700 3.800.6h1.900L7 1.800 7.500 3.600 8 1.800 9.300.6h1.900L13 1.700 14.500 3.200V12.500z" fill="#fff" stroke="#7e7e7e" stroke-width="1.100"/><path d="M7.500 3.500V6" stroke="#8c8c8c"/><rect x="7" y="4.300" width="8.800" height="8.700" fill="#8e8e8e"/><rect x="0" y="10" width="8" height="3" fill="#929292"/><rect x="1" y="3" width="1" height="7" fill="#c4c4c4"/><rect x="6" y="6" width="8" height="9" fill="#000"/><rect x="7" y="7" width="6" height="7" fill="#fff"/><rect x="9" y="7" width="1" height="7" fill="#f00"/><path d="M7 8.500h6M7 10.500h2M7 12.500h2" stroke="#f00"/><path d="M10 10.500h3M10 12.500h3" stroke="#b0b0b0"/><rect x="11" y="9" width="1" height="5" fill="#b8b8b8"/></svg>
<span class="t j" style="left:21.00px;top:155.00px;font-size:12px;line-height:14px;letter-spacing:0.109px;">Coefficients</span>
<svg style="left:1px;top:171px" width="16" height="16" viewBox="0 0 16 16"><path d="M0.500 12.500V3.200L2 1.700 3.800.6h1.900L7 1.800 7.500 3.600 8 1.800 9.300.6h1.900L13 1.700 14.500 3.200V12.500z" fill="#fff" stroke="#7e7e7e" stroke-width="1.100"/><path d="M7.500 3.500V6" stroke="#8c8c8c"/><rect x="7" y="4.300" width="8.800" height="8.700" fill="#8e8e8e"/><rect x="0" y="10" width="8" height="3" fill="#929292"/><rect x="1" y="3" width="1" height="7" fill="#c4c4c4"/><rect x="6" y="6" width="8" height="9" fill="#000"/><rect x="7" y="7" width="6" height="7" fill="#fff"/><rect x="9" y="7" width="1" height="7" fill="#f00"/><path d="M7 8.500h6M7 10.500h2M7 12.500h2" stroke="#f00"/><path d="M10 10.500h3M10 12.500h3" stroke="#b0b0b0"/><rect x="11" y="9" width="1" height="5" fill="#b8b8b8"/></svg>
<span class="t j" style="left:21.00px;top:172.00px;font-size:12px;line-height:14px;letter-spacing:0.098px;">Residuals Statistics</span>
<span class="t j" style="left:-3.00px;top:189.00px;font-size:12px;line-height:14px;letter-spacing:0.326px;">Log</span>
<span class="t j" style="left:-3.00px;top:206.00px;font-size:12px;line-height:14px;">NPar Tests</span>
<svg style="left:1px;top:222px" width="16" height="16" viewBox="0 0 16 16"><path d="M0.5 12.500V3.200L2 1.700 3.800.6h1.900L7 1.800 7.500 3.600 8 1.800 9.300.6h1.900L13 1.700 14.500 3.200V12.500z" fill="#fff" stroke="#7e7e7e" stroke-width="1.100"/><path d="M7.500 3.500V6" stroke="#8c8c8c"/><rect x="0" y="10" width="15" height="3" fill="#9a9a9a"/><rect x="1" y="3" width="1" height="7" fill="#c4c4c4"/><rect x="3.500" y="4.500" width="12" height="10" fill="#fff" stroke="#000"/><path d="M5.500 6.800h2l1 1.200 1-1.200 1 1.200 1-1.200" stroke="#444" fill="none" stroke-width="0.9"/><path d="M5.500 10.500h7M5.500 12.500h7" stroke="#777"/></svg>
<span class="t j" style="left:21.00px;top:223.00px;font-size:12px;line-height:14px;letter-spacing:0.066px;">Title</span>
<svg style="left:1px;top:239px" width="16" height="16" viewBox="0 0 16 16"><rect x="12" y="1.500" width="2.500" height="9" fill="#fff" stroke="#000"/><rect x="0.500" y="0.500" width="11.500" height="11" rx="1" fill="#d4d4d4" stroke="#000"/><rect x="1" y="1" width="1.200" height="9.500" fill="#f00"/><rect x="2.200" y="1" width="9" height="3" fill="#ececec"/><rect x="1" y="10" width="3" height="2.500" fill="#fff" stroke="#000" stroke-width="0.8"/><rect x="3.500" y="6.500" width="12" height="8" fill="#fff" stroke="#000"/><rect x="6" y="8" width="1.500" height="1.200" fill="#f00"/><path d="M5.500 10.200h1.700v2.300M5.300 12.700h3.200" stroke="#f00" stroke-width="1.100" fill="none"/><path d="M9.500 8.500h4.500M9.500 10.500h4.500M9.500 12.500h4.500" stroke="#888"/></svg>
<span class="t j" style="left:21.00px;top:240.00px;font-size:12px;line-height:14px;letter-spacing:0.130px;">Notes</span>
<svg style="left:1px;top:256px" width="16" height="16" viewBox="0 0 16 16"><path d="M0.500 12.500V3.200L2 1.700 3.800.6h1.900L7 1.800 7.500 3.600 8 1.800 9.300.6h1.900L13 1.700 14.500 3.200V12.500z" fill="#fff" stroke="#7e7e7e" stroke-width="1.100"/><path d="M7.500 3.500V6" stroke="#8c8c8c"/><rect x="7" y="4.300" width="8.800" height="8.700" fill="#8e8e8e"/><rect x="0" y="10" width="8" height="3" fill="#929292"/><rect x="1" y="3" width="1" height="7" fill="#c4c4c4"/><rect x="6" y="6" width="8" height="9" fill="#000"/><rect x="7" y="7" width="6" height="7" fill="#fff"/><rect x="9" y="7" width="1" height="7" fill="#f00"/><path d="M7 8.500h6M7 10.500h2M7 12.500h2" stroke="#f00"/><path d="M10 10.500h3M10 12.500h3" stroke="#b0b0b0"/><rect x="11" y="9" width="1" height="5" fill="#b8b8b8"/></svg>
<span class="t j" style="left:21.00px;top:257.00px;font-size:12px;line-height:14px;letter-spacing:0.106px;">One-Sample Kolmogorov-Smirnov Test</span>
<span class="t j" style="left:-3.00px;top:274.00px;font-size:12px;line-height:14px;letter-spacing:0.326px;">Log</span>
<span class="t j" style="left:-3.00px;top:291.00px;font-size:12px;line-height:14px;letter-spacing:0.166px;">Discriminant</span>
<svg style="left:1px;top:307px" width="16" height="16" viewBox="0 0 16 16"><path d="M0.5 12.500V3.200L2 1.700 3.800.6h1.900L7 1.800 7.500 3.600 8 1.800 9.300.6h1.900L13 1.700 14.500 3.200V12.500z" fill="#fff" stroke="#7e7e7e" stroke-width="1.100"/><path d="M7.500 3.500V6" stroke="#8c8c8c"/><rect x="0" y="10" width="15" height="3" fill="#9a9a9a"/><rect x="1" y="3" width="1" height="7" fill="#c4c4c4"/><rect x="3.500" y="4.500" width="12" height="10" fill="#fff" stroke="#000"/><path d="M5.500 6.800h2l1 1.200 1-1.200 1 1.200 1-1.200" stroke="#444" fill="none" stroke-width="0.9"/><path d="M5.500 10.500h7M5.500 12.500h7" stroke="#777"/></svg>
<span class="t j" style="left:21.00px;top:308.00px;font-size:12px;line-height:14px;letter-spacing:0.066px;">Title</span>
<svg style="left:1px;top:324px" width="16" height="16" viewBox="0 0 16 16"><rect x="12" y="1.500" width="2.500" height="9" fill="#fff" stroke="#000"/><rect x="0.500" y="0.500" width="11.500" height="11" rx="1" fill="#d4d4d4" stroke="#000"/><rect x="1" y="1" width="1.200" height="9.500" fill="#f00"/><rect x="2.200" y="1" width="9" height="3" fill="#ececec"/><rect x="1" y="10" width="3" height="2.500" fill="#fff" stroke="#000" stroke-width="0.8"/><rect x="3.500" y="6.500" width="12" height="8" fill="#fff" stroke="#000"/><rect x="6" y="8" width="1.500" height="1.200" fill="#f00"/><path d="M5.500 10.200h1.700v2.300M5.300 12.700h3.200" stroke="#f00" stroke-width="1.100" fill="none"/><path d="M9.500 8.500h4.500M9.500 10.500h4.500M9.500 12.500h4.500" stroke="#888"/></svg>
<span class="t j" style="left:21.00px;top:325.00px;font-size:12px;line-height:14px;letter-spacing:0.130px;">Notes</span>
<svg style="left:1px;top:341px" width="16" height="16" viewBox="0 0 16 16"><path d="M0.500 12.500V3.200L2 1.700 3.800.6h1.900L7 1.800 7.500 3.600 8 1.800 9.300.6h1.900L13 1.700 14.500 3.200V12.500z" fill="#fff" stroke="#7e7e7e" stroke-width="1.100"/><path d="M7.500 3.500V6" stroke="#8c8c8c"/><rect x="7" y="4.300" width="8.800" height="8.700" fill="#8e8e8e"/><rect x="0" y="10" width="8" height="3" fill="#929292"/><rect x="1" y="3" width="1" height="7" fill="#c4c4c4"/><rect x="6" y="6" width="8" height="9" fill="#000"/><rect x="7" y="7" width="6" height="7" fill="#fff"/><rect x="9" y="7" width="1" height="7" fill="#f00"/><path d="M7 8.500h6M7 10.500h2M7 12.500h2" stroke="#f00"/><path d="M10 10.500h3M10 12.500h3" stroke="#b0b0b0"/><rect x="11" y="9" width="1" height="5" fill="#b8b8b8"/></svg>
<span class="t j" style="left:21.00px;top:342.00px;font-size:12px;line-height:14px;letter-spacing:0.112px;">Analysis Case Processing Summary</span>
<svg style="left:1px;top:358px" width="16" height="16" viewBox="0 0 16 16"><path d="M0.500 12.500V3.200L2 1.700 3.800.6h1.900L7 1.800 7.500 3.600 8 1.800 9.300.6h1.900L13 1.700 14.500 3.200V12.500z" fill="#fff" stroke="#7e7e7e" stroke-width="1.100"/><path d="M7.500 3.500V6" stroke="#8c8c8c"/><rect x="7" y="4.300" width="8.800" height="8.700" fill="#8e8e8e"/><rect x="0" y="10" width="8" height="3" fill="#929292"/><rect x="1" y="3" width="1" height="7" fill="#c4c4c4"/><rect x="6" y="6" width="8" height="9" fill="#000"/><rect x="7" y="7" width="6" height="7" fill="#fff"/><rect x="9" y="7" width="1" height="7" fill="#f00"/><path d="M7 8.500h6M7 10.500h2M7 12.500h2" stroke="#f00"/><path d="M10 10.500h3M10 12.500h3" stroke="#b0b0b0"/><rect x="11" y="9" width="1" height="5" fill="#b8b8b8"/></svg>
<span class="t j" style="left:21.00px;top:359.00px;font-size:12px;line-height:14px;letter-spacing:0.019px;">Group Statistics</span>
<svg style="left:1px;top:375px" width="16" height="16" viewBox="0 0 16 16"><path d="M0.500 12.500V3.200L2 1.700 3.800.6h1.900L7 1.800 7.500 3.600 8 1.800 9.300.6h1.900L13 1.700 14.500 3.200V12.500z" fill="#fff" stroke="#7e7e7e" stroke-width="1.100"/><path d="M7.500 3.500V6" stroke="#8c8c8c"/><rect x="7" y="4.300" width="8.800" height="8.700" fill="#8e8e8e"/><rect x="0" y="10" width="8" height="3" fill="#929292"/><rect x="1" y="3" width="1" height="7" fill="#c4c4c4"/><rect x="6" y="6" width="8" height="9" fill="#000"/><rect x="7" y="7" width="6" height="7" fill="#fff"/><rect x="9" y="7" width="1" height="7" fill="#f00"/><path d="M7 8.500h6M7 10.500h2M7 12.500h2" stroke="#f00"/><path d="M10 10.500h3M10 12.500h3" stroke="#b0b0b0"/><rect x="11" y="9" width="1" height="5" fill="#b8b8b8"/></svg>
<span class="t j" style="left:21.00px;top:376.00px;font-size:12px;line-height:14px;letter-spacing:0.029px;">Tests of Equality of Group Means</span>
<svg style="left:1px;top:392px" width="16" height="16" viewBox="0 0 16 16"><path d="M0.500 12.500V3.200L2 1.700 3.800.6h1.900L7 1.800 7.500 3.600 8 1.800 9.300.6h1.900L13 1.700 14.500 3.200V12.500z" fill="#fff" stroke="#7e7e7e" stroke-width="1.100"/><path d="M7.500 3.500V6" stroke="#8c8c8c"/><rect x="7" y="4.300" width="8.800" height="8.700" fill="#8e8e8e"/><rect x="0" y="10" width="8" height="3" fill="#929292"/><rect x="1" y="3" width="1" height="7" fill="#c4c4c4"/><rect x="6" y="6" width="8" height="9" fill="#000"/><rect x="7" y="7" width="6" height="7" fill="#fff"/><rect x="9" y="7" width="1" height="7" fill="#f00"/><path d="M7 8.500h6M7 10.500h2M7 12.500h2" stroke="#f00"/><path d="M10 10.500h3M10 12.500h3" stroke="#b0b0b0"/><rect x="11" y="9" width="1" height="5" fill="#b8b8b8"/></svg>
<span class="t j" style="left:21.00px;top:393.00px;font-size:12px;line-height:14px;letter-spacing:0.101px;">Pooled Within-Groups Matrices</span>
<svg style="left:1px;top:409px" width="16" height="16" viewBox="0 0 16 16"><rect x="2" y="1" width="12" height="14" fill="#000"/><rect x="2" y="1" width="10.800" height="12.800" fill="#ffe48f" stroke="#000"/><path d="M0.800 3.500h2.400M0.800 7.500h2.400M0.800 11.500h2.400" stroke="#333" stroke-width="1.200"/><path d="M5 4v6.500h2.500M5 7.500h2.500M5 4.500h2" stroke="#000" stroke-width="1.300" fill="none"/><rect x="5.300" y="3" width="3" height="2" fill="#8a1010"/><rect x="7.500" y="6.300" width="4" height="2" fill="#f00"/><rect x="7.500" y="9.500" width="4" height="2" fill="#f00"/></svg>
<span class="t j" style="left:21.00px;top:410.00px;font-size:12px;line-height:14px;letter-spacing:0.131px;">Analysis 1</span>
<svg style="left:26px;top:426px" width="16" height="16" viewBox="0 0 16 16"><path d="M0.5 12.500V3.200L2 1.700 3.800.6h1.900L7 1.800 7.500 3.600 8 1.800 9.300.6h1.900L13 1.700 14.500 3.200V12.500z" fill="#fff" stroke="#7e7e7e" stroke-width="1.100"/><path d="M7.500 3.500V6" stroke="#8c8c8c"/><rect x="0" y="10" width="15" height="3" fill="#9a9a9a"/><rect x="1" y="3" width="1" height="7" fill="#c4c4c4"/><rect x="3.500" y="4.500" width="12" height="10" fill="#fff" stroke="#000"/><path d="M5.500 6.800h2l1 1.200 1-1.200 1 1.200 1-1.200" stroke="#444" fill="none" stroke-width="0.9"/><path d="M5.500 10.500h7M5.500 12.500h7" stroke="#777"/></svg>
<span class="t j" style="left:46.00px;top:427.00px;font-size:12px;line-height:14px;letter-spacing:0.066px;">Title</span>
<svg style="left:26px;top:443px" width="16" height="16" viewBox="0 0 16 16"><rect x="2" y="1" width="12" height="14" fill="#000"/><rect x="2" y="1" width="10.800" height="12.800" fill="#ffe48f" stroke="#000"/><path d="M0.800 3.500h2.400M0.800 7.500h2.400M0.800 11.500h2.400" stroke="#333" stroke-width="1.200"/><path d="M5 4v6.500h2.500M5 7.500h2.500M5 4.500h2" stroke="#000" stroke-width="1.300" fill="none"/><rect x="5.300" y="3" width="3" height="2" fill="#8a1010"/><rect x="7.500" y="6.300" width="4" height="2" fill="#f00"/><rect x="7.500" y="9.500" width="4" height="2" fill="#f00"/></svg>
<svg style="left:6px;top:446px" width="9" height="9" viewBox="0 0 9 9"><rect x="0.500" y="0.500" width="8" height="8" fill="url(#hg)" stroke="#2f6fd0"/><path d="M2 4.500h5" stroke="#1a3f9a" stroke-width="1.200"/></svg>
<span class="t j" style="left:46.00px;top:444.00px;font-size:12px;line-height:14px;letter-spacing:0.043px;">Box's Test of Equality of Covariance Matrices</span>
<svg style="left:51px;top:460px" width="16" height="16" viewBox="0 0 16 16"><path d="M0.5 12.500V3.200L2 1.700 3.800.6h1.900L7 1.800 7.500 3.600 8 1.800 9.300.6h1.900L13 1.700 14.500 3.200V12.500z" fill="#fff" stroke="#7e7e7e" stroke-width="1.100"/><path d="M7.500 3.500V6" stroke="#8c8c8c"/><rect x="0" y="10" width="15" height="3" fill="#9a9a9a"/><rect x="1" y="3" width="1" height="7" fill="#c4c4c4"/><rect x="3.500" y="4.500" width="12" height="10" fill="#fff" stroke="#000"/><path d="M5.500 6.800h2l1 1.200 1-1.200 1 1.200 1-1.200" stroke="#444" fill="none" stroke-width="0.9"/><path d="M5.500 10.500h7M5.500 12.500h7" stroke="#777"/></svg>
<span class="t j" style="left:71.00px;top:461.00px;font-size:12px;line-height:14px;letter-spacing:0.066px;">Title</span>
<svg style="left:51px;top:477px" width="16" height="16" viewBox="0 0 16 16"><path d="M0.500 12.500V3.200L2 1.700 3.800.6h1.900L7 1.800 7.500 3.600 8 1.800 9.300.6h1.900L13 1.700 14.500 3.200V12.500z" fill="#fff" stroke="#7e7e7e" stroke-width="1.100"/><path d="M7.500 3.500V6" stroke="#8c8c8c"/><rect x="7" y="4.300" width="8.800" height="8.700" fill="#8e8e8e"/><rect x="0" y="10" width="8" height="3" fill="#929292"/><rect x="1" y="3" width="1" height="7" fill="#c4c4c4"/><rect x="6" y="6" width="8" height="9" fill="#000"/><rect x="7" y="7" width="6" height="7" fill="#fff"/><rect x="9" y="7" width="1" height="7" fill="#f00"/><path d="M7 8.500h6M7 10.500h2M7 12.500h2" stroke="#f00"/><path d="M10 10.500h3M10 12.500h3" stroke="#b0b0b0"/><rect x="11" y="9" width="1" height="5" fill="#b8b8b8"/></svg>
<span class="t j" style="left:71.00px;top:478.00px;font-size:12px;line-height:14px;letter-spacing:0.143px;">Log Determinants</span>
<svg style="left:51px;top:494px" width="16" height="16" viewBox="0 0 16 16"><path d="M0.500 12.500V3.200L2 1.700 3.800.6h1.900L7 1.800 7.500 3.600 8 1.800 9.300.6h1.900L13 1.700 14.500 3.200V12.500z" fill="#fff" stroke="#7e7e7e" stroke-width="1.100"/><path d="M7.500 3.500V6" stroke="#8c8c8c"/><rect x="7" y="4.300" width="8.800" height="8.700" fill="#8e8e8e"/><rect x="0" y="10" width="8" height="3" fill="#929292"/><rect x="1" y="3" width="1" height="7" fill="#c4c4c4"/><rect x="6" y="6" width="8" height="9" fill="#000"/><rect x="7" y="7" width="6" height="7" fill="#fff"/><rect x="9" y="7" width="1" height="7" fill="#f00"/><path d="M7 8.500h6M7 10.500h2M7 12.500h2" stroke="#f00"/><path d="M10 10.500h3M10 12.500h3" stroke="#b0b0b0"/><rect x="11" y="9" width="1" height="5" fill="#b8b8b8"/></svg>
<span class="t j" style="left:71.00px;top:495.00px;font-size:12px;line-height:14px;letter-spacing:0.026px;">Test Results</span>
<svg style="left:26px;top:511px" width="16" height="16" viewBox="0 0 16 16"><rect x="2" y="1" width="12" height="14" fill="#000"/><rect x="2" y="1" width="10.800" height="12.800" fill="#ffe48f" stroke="#000"/><path d="M0.800 3.500h2.400M0.800 7.500h2.400M0.800 11.500h2.400" stroke="#333" stroke-width="1.200"/><path d="M5 4v6.500h2.500M5 7.500h2.500M5 4.500h2" stroke="#000" stroke-width="1.300" fill="none"/><rect x="5.300" y="3" width="3" height="2" fill="#8a1010"/><rect x="7.500" y="6.300" width="4" height="2" fill="#f00"/><rect x="7.500" y="9.500" width="4" height="2" fill="#f00"/></svg>
<svg style="left:6px;top:514px" width="9" height="9" viewBox="0 0 9 9"><rect x="0.500" y="0.500" width="8" height="8" fill="url(#hg)" stroke="#2f6fd0"/><path d="M2 4.500h5" stroke="#1a3f9a" stroke-width="1.200"/></svg>
<span class="t j" style="left:46.00px;top:512.00px;font-size:12px;line-height:14px;letter-spacing:0.051px;">Stepwise Statistics</span>
<svg style="left:51px;top:528px" width="16" height="16" viewBox="0 0 16 16"><path d="M0.5 12.500V3.200L2 1.700 3.800.6h1.900L7 1.800 7.500 3.600 8 1.800 9.300.6h1.900L13 1.700 14.500 3.200V12.500z" fill="#fff" stroke="#7e7e7e" stroke-width="1.100"/><path d="M7.500 3.500V6" stroke="#8c8c8c"/><rect x="0" y="10" width="15" height="3" fill="#9a9a9a"/><rect x="1" y="3" width="1" height="7" fill="#c4c4c4"/><rect x="3.500" y="4.500" width="12" height="10" fill="#fff" stroke="#000"/><path d="M5.500 6.800h2l1 1.200 1-1.200 1 1.200 1-1.200" stroke="#444" fill="none" stroke-width="0.9"/><path d="M5.500 10.500h7M5.500 12.500h7" stroke="#777"/></svg>
<span class="t j" style="left:71.00px;top:529.00px;font-size:12px;line-height:14px;letter-spacing:0.066px;">Title</span>
<svg style="left:51px;top:545px" width="16" height="16" viewBox="0 0 16 16"><path d="M0.500 12.500V3.200L2 1.700 3.800.6h1.900L7 1.800 7.500 3.600 8 1.800 9.300.6h1.900L13 1.700 14.500 3.200V12.500z" fill="#fff" stroke="#7e7e7e" stroke-width="1.100"/><path d="M7.500 3.500V6" stroke="#8c8c8c"/><rect x="7" y="4.300" width="8.800" height="8.700" fill="#8e8e8e"/><rect x="0" y="10" width="8" height="3" fill="#929292"/><rect x="1" y="3" width="1" height="7" fill="#c4c4c4"/><rect x="6" y="6" width="8" height="9" fill="#000"/><rect x="7" y="7" width="6" height="7" fill="#fff"/><rect x="9" y="7" width="1" height="7" fill="#f00"/><path d="M7 8.500h6M7 10.500h2M7 12.500h2" stroke="#f00"/><path d="M10 10.500h3M10 12.500h3" stroke="#b0b0b0"/><rect x="11" y="9" width="1" height="5" fill="#b8b8b8"/></svg>
<span class="t j" style="left:71.00px;top:546.00px;font-size:12px;line-height:14px;letter-spacing:0.157px;">Variables Entered/Removed</span>
<svg style="left:51px;top:562px" width="16" height="16" viewBox="0 0 16 16"><path d="M0.500 12.500V3.200L2 1.700 3.800.6h1.900L7 1.800 7.500 3.600 8 1.800 9.300.6h1.900L13 1.700 14.500 3.200V12.500z" fill="#fff" stroke="#7e7e7e" stroke-width="1.100"/><path d="M7.500 3.500V6" stroke="#8c8c8c"/><rect x="7" y="4.300" width="8.800" height="8.700" fill="#8e8e8e"/><rect x="0" y="10" width="8" height="3" fill="#929292"/><rect x="1" y="3" width="1" height="7" fill="#c4c4c4"/><rect x="6" y="6" width="8" height="9" fill="#000"/><rect x="7" y="7" width="6" height="7" fill="#fff"/><rect x="9" y="7" width="1" height="7" fill="#f00"/><path d="M7 8.500h6M7 10.500h2M7 12.500h2" stroke="#f00"/><path d="M10 10.500h3M10 12.500h3" stroke="#b0b0b0"/><rect x="11" y="9" width="1" height="5" fill="#b8b8b8"/></svg>
<span class="t j" style="left:71.00px;top:563.00px;font-size:12px;line-height:14px;letter-spacing:0.131px;">Variables in the Analysis</span>
<svg style="left:51px;top:579px" width="16" height="16" viewBox="0 0 16 16"><path d="M0.500 12.500V3.200L2 1.700 3.800.6h1.900L7 1.800 7.500 3.600 8 1.800 9.300.6h1.900L13 1.700 14.500 3.200V12.500z" fill="#fff" stroke="#7e7e7e" stroke-width="1.100"/><path d="M7.500 3.500V6" stroke="#8c8c8c"/><rect x="7" y="4.300" width="8.800" height="8.700" fill="#8e8e8e"/><rect x="0" y="10" width="8" height="3" fill="#929292"/><rect x="1" y="3" width="1" height="7" fill="#c4c4c4"/><rect x="6" y="6" width="8" height="9" fill="#000"/><rect x="7" y="7" width="6" height="7" fill="#fff"/><rect x="9" y="7" width="1" height="7" fill="#f00"/><path d="M7 8.500h6M7 10.500h2M7 12.500h2" stroke="#f00"/><path d="M10 10.500h3M10 12.500h3" stroke="#b0b0b0"/><rect x="11" y="9" width="1" height="5" fill="#b8b8b8"/></svg>
<span class="t j" style="left:71.00px;top:580.00px;font-size:12px;line-height:14px;letter-spacing:0.112px;">Variables Not in the Analysis</span>
</div>
<!-- outline scrollbars -->
<div class="b vsb" style="left:182px;top:92px;height:596px"><div class="b vtr" style="top:15px;height:566px"></div><div class="b vth" style="top:14px;height:209px"></div><div class="b sbtn" style="top:0"><svg width="13" height="14" viewBox="0 0 13 14"><path d="M6.5 3L11 8H2z" fill="url(#arg)"/></svg></div><div class="b sbtn dn" style="bottom:0"><svg width="13" height="14" viewBox="0 0 13 14"><path d="M6.5 9L11 4H2z" fill="url(#arg)"/></svg></div></div>
<div class="b hsb" style="left:3px;top:688px;width:179px"><div class="b htr" style="left:15px;width:149px"></div><div class="b hth" style="left:39px;width:64px"></div><div class="b sbtnh" style="left:0"><svg width="14" height="13" viewBox="0 0 14 13"><path d="M3 6.5L8 2V11z" fill="url(#arg)"/></svg></div><div class="b sbtnh rt" style="right:0"><svg width="14" height="13" viewBox="0 0 14 13"><path d="M9 6.5L4 2V11z" fill="url(#arg)"/></svg></div></div>
<!-- viewer content -->
<div class="clip" style="left:207px;top:92px;width:1141px;height:611px;background:#fff">
<!-- Group Statistics (tail) -->
<div class="b" style="left:27px;top:0px;width:178px;height:110px;background:#e0e0e0;"></div>
<div class="b" style="left:301px;top:0px;width:1px;height:110px;background:#e0e0e0;"></div>
<div class="b" style="left:397px;top:0px;width:1px;height:110px;background:#e0e0e0;"></div>
<div class="b" style="left:482px;top:0px;width:1px;height:110px;background:#e0e0e0;"></div>
<div class="b" style="left:107px;top:0px;width:447px;height:1px;background:#aeaeae;"></div>
<div class="b" style="left:27px;top:22px;width:527px;height:1px;background:#aeaeae;"></div>
<div class="b" style="left:107px;top:44px;width:447px;height:1px;background:#aeaeae;"></div>
<div class="b" style="left:27px;top:66px;width:527px;height:1px;background:#aeaeae;"></div>
<div class="b" style="left:107px;top:88px;width:447px;height:1px;background:#aeaeae;"></div>
<div class="b" style="left:27px;top:110px;width:527px;height:1px;background:#152935;"></div>
<span class="t " style="left:115.00px;top:6.00px;font-size:12px;line-height:14px;letter-spacing:0.275px;color:#264a60;">Jarak Tempuh</span>
<span class="t " style="left:252.00px;top:6.00px;font-size:12px;line-height:14px;letter-spacing:0.216px;color:#010205;">2.7500</span>
<span class="t " style="left:348.00px;top:6.00px;font-size:12px;line-height:14px;letter-spacing:0.216px;color:#010205;">.58095</span>
<span class="t " style="left:464.00px;top:6.00px;font-size:12px;line-height:14px;letter-spacing:0.326px;color:#010205;">5</span>
<span class="t " style="left:511.00px;top:6.00px;font-size:12px;line-height:14px;letter-spacing:0.194px;color:#010205;">5.000</span>
<span class="t " style="left:35.00px;top:28.00px;font-size:12px;line-height:14px;letter-spacing:0.162px;color:#264a60;">Puas</span>
<span class="t " style="left:115.00px;top:28.00px;font-size:12px;line-height:14px;letter-spacing:0.074px;color:#264a60;">Gaji Karyawan</span>
<span class="t " style="left:217.00px;top:28.00px;font-size:12px;line-height:14px;letter-spacing:0.266px;color:#010205;">3100000.000</span>
<span class="t " style="left:313.00px;top:28.00px;font-size:12px;line-height:14px;letter-spacing:0.266px;color:#010205;">547722.5575</span>
<span class="t " style="left:464.00px;top:28.00px;font-size:12px;line-height:14px;letter-spacing:0.326px;color:#010205;">5</span>
<span class="t " style="left:511.00px;top:28.00px;font-size:12px;line-height:14px;letter-spacing:0.194px;color:#010205;">5.000</span>
<span class="t " style="left:115.00px;top:50.00px;font-size:12px;line-height:14px;letter-spacing:0.275px;color:#264a60;">Jarak Tempuh</span>
<span class="t " style="left:252.00px;top:50.00px;font-size:12px;line-height:14px;letter-spacing:0.216px;color:#010205;">3.5100</span>
<span class="t " style="left:348.00px;top:50.00px;font-size:12px;line-height:14px;letter-spacing:0.216px;color:#010205;">.21909</span>
<span class="t " style="left:464.00px;top:50.00px;font-size:12px;line-height:14px;letter-spacing:0.326px;color:#010205;">5</span>
<span class="t " style="left:511.00px;top:50.00px;font-size:12px;line-height:14px;letter-spacing:0.194px;color:#010205;">5.000</span>
<span class="t " style="left:35.00px;top:72.00px;font-size:12px;line-height:14px;letter-spacing:0.064px;color:#264a60;">Total</span>
<span class="t " style="left:115.00px;top:72.00px;font-size:12px;line-height:14px;letter-spacing:0.074px;color:#264a60;">Gaji Karyawan</span>
<span class="t " style="left:217.00px;top:72.00px;font-size:12px;line-height:14px;letter-spacing:0.266px;color:#010205;">2980000.000</span>
<span class="t " style="left:313.00px;top:72.00px;font-size:12px;line-height:14px;letter-spacing:0.266px;color:#010205;">810760.9594</span>
<span class="t " style="left:457.00px;top:72.00px;font-size:12px;line-height:14px;letter-spacing:0.326px;color:#010205;">10</span>
<span class="t " style="left:504.00px;top:72.00px;font-size:12px;line-height:14px;letter-spacing:0.216px;color:#010205;">10.000</span>
<span class="t " style="left:115.00px;top:94.00px;font-size:12px;line-height:14px;letter-spacing:0.275px;color:#264a60;">Jarak Tempuh</span>
<span class="t " style="left:252.00px;top:94.00px;font-size:12px;line-height:14px;letter-spacing:0.216px;color:#010205;">3.1300</span>
<span class="t " style="left:348.00px;top:94.00px;font-size:12px;line-height:14px;letter-spacing:0.216px;color:#010205;">.57600</span>
<span class="t " style="left:457.00px;top:94.00px;font-size:12px;line-height:14px;letter-spacing:0.326px;color:#010205;">10</span>
<span class="t " style="left:504.00px;top:94.00px;font-size:12px;line-height:14px;letter-spacing:0.216px;color:#010205;">10.000</span>
<!-- Tests of Equality of Group Means -->
<span class="t " style="left:138.25px;top:147.00px;font-size:14.4px;line-height:16px;letter-spacing:0.271px;font-weight:bold;">Tests of Equality of Group Means</span>
<div class="b" style="left:27px;top:208px;width:98px;height:43px;background:#e0e0e0;"></div>
<div class="b" style="left:221px;top:171px;width:1px;height:80px;background:#e0e0e0;"></div>
<div class="b" style="left:288px;top:171px;width:1px;height:80px;background:#e0e0e0;"></div>
<div class="b" style="left:355px;top:171px;width:1px;height:80px;background:#e0e0e0;"></div>
<div class="b" style="left:422px;top:171px;width:1px;height:80px;background:#e0e0e0;"></div>
<div class="b" style="left:27px;top:207px;width:463px;height:1px;background:#152935;"></div>
<div class="b" style="left:27px;top:229px;width:463px;height:1px;background:#aeaeae;"></div>
<div class="b" style="left:27px;top:251px;width:463px;height:1px;background:#152935;"></div>
<span class="t " style="left:155.00px;top:174.00px;font-size:12px;line-height:14px;letter-spacing:0.008px;color:#264a60;">Wilks'</span>
<span class="t " style="left:148.00px;top:189.00px;font-size:12px;line-height:14px;letter-spacing:0.272px;color:#264a60;">Lambda</span>
<span class="t " style="left:249.00px;top:189.00px;font-size:12px;line-height:14px;letter-spacing:-0.330px;color:#264a60;">F</span>
<span class="t " style="left:311.00px;top:189.00px;font-size:12px;line-height:14px;letter-spacing:0.106px;color:#264a60;">df1</span>
<span class="t " style="left:378.00px;top:189.00px;font-size:12px;line-height:14px;letter-spacing:0.106px;color:#264a60;">df2</span>
<span class="t " style="left:443.00px;top:189.00px;font-size:12px;line-height:14px;letter-spacing:0.081px;color:#264a60;">Sig.</span>
<span class="t " style="left:35.00px;top:213.00px;font-size:12px;line-height:14px;letter-spacing:0.074px;color:#264a60;">Gaji Karyawan</span>
<span class="t " style="left:186.00px;top:213.00px;font-size:12px;line-height:14px;letter-spacing:0.161px;color:#010205;">.976</span>
<span class="t " style="left:253.00px;top:213.00px;font-size:12px;line-height:14px;letter-spacing:0.161px;color:#010205;">.200</span>
<span class="t " style="left:337.00px;top:213.00px;font-size:12px;line-height:14px;letter-spacing:0.326px;color:#010205;">1</span>
<span class="t " style="left:404.00px;top:213.00px;font-size:12px;line-height:14px;letter-spacing:0.326px;color:#010205;">8</span>
<span class="t " style="left:454.00px;top:213.00px;font-size:12px;line-height:14px;letter-spacing:0.161px;color:#010205;">.667</span>
<span class="t " style="left:35.00px;top:235.00px;font-size:12px;line-height:14px;letter-spacing:0.275px;color:#264a60;">Jarak Tempuh</span>
<span class="t " style="left:186.00px;top:235.00px;font-size:12px;line-height:14px;letter-spacing:0.161px;color:#010205;">.516</span>
<span class="t " style="left:246.00px;top:235.00px;font-size:12px;line-height:14px;letter-spacing:0.194px;color:#010205;">7.492</span>
<span class="t " style="left:337.00px;top:235.00px;font-size:12px;line-height:14px;letter-spacing:0.326px;color:#010205;">1</span>
<span class="t " style="left:404.00px;top:235.00px;font-size:12px;line-height:14px;letter-spacing:0.326px;color:#010205;">8</span>
<span class="t " style="left:454.00px;top:235.00px;font-size:12px;line-height:14px;letter-spacing:0.161px;color:#010205;">.026</span>
<!-- Pooled Within-Groups Matrices -->
<span class="t " style="left:100.25px;top:288.00px;font-size:14.4px;line-height:16px;letter-spacing:0.210px;font-weight:bold;">Pooled Within-Groups Matrices</span>
<div class="b" style="left:27px;top:349px;width:178px;height:43px;background:#e0e0e0;"></div>
<div class="b" style="left:301px;top:312px;width:1px;height:80px;background:#e0e0e0;"></div>
<div class="b" style="left:27px;top:348px;width:371px;height:1px;background:#152935;"></div>
<div class="b" style="left:107px;top:370px;width:291px;height:1px;background:#aeaeae;"></div>
<div class="b" style="left:27px;top:392px;width:371px;height:1px;background:#152935;"></div>
<span class="t " style="left:239.50px;top:315.00px;font-size:12px;line-height:14px;letter-spacing:0.165px;color:#264a60;">Gaji</span>
<span class="t " style="left:223.00px;top:330.00px;font-size:12px;line-height:14px;letter-spacing:0.205px;color:#264a60;">Karyawan</span>
<span class="t " style="left:332.00px;top:315.00px;font-size:12px;line-height:14px;letter-spacing:0.131px;color:#264a60;">Jarak</span>
<span class="t " style="left:324.50px;top:330.00px;font-size:12px;line-height:14px;letter-spacing:0.163px;color:#264a60;">Tempuh</span>
<span class="t " style="left:35.00px;top:354.00px;font-size:12px;line-height:14px;letter-spacing:0.210px;color:#264a60;">Correlation</span>
<span class="t " style="left:115.00px;top:354.00px;font-size:12px;line-height:14px;letter-spacing:0.074px;color:#264a60;">Gaji Karyawan</span>
<span class="t " style="left:259.00px;top:354.00px;font-size:12px;line-height:14px;letter-spacing:0.194px;color:#010205;">1.000</span>
<span class="t " style="left:362.00px;top:354.00px;font-size:12px;line-height:14px;letter-spacing:0.161px;color:#010205;">.684</span>
<span class="t " style="left:115.00px;top:376.00px;font-size:12px;line-height:14px;letter-spacing:0.275px;color:#264a60;">Jarak Tempuh</span>
<span class="t " style="left:266.00px;top:376.00px;font-size:12px;line-height:14px;letter-spacing:0.161px;color:#010205;">.684</span>
<span class="t " style="left:355.00px;top:376.00px;font-size:12px;line-height:14px;letter-spacing:0.194px;color:#010205;">1.000</span>
<!-- headings -->
<span class="t " style="left:28.00px;top:425.00px;font-size:18px;line-height:20px;letter-spacing:-0.005px;font-weight:bold;">Analysis 1</span>
<span class="t " style="left:28.00px;top:473.00px;font-size:18px;line-height:20px;letter-spacing:0.142px;font-weight:bold;">Box's Test of Equality of Covariance Matrices</span>
<!-- Log Determinants -->
<span class="t " style="left:112.20px;top:525.00px;font-size:14.4px;line-height:16px;letter-spacing:0.199px;font-weight:bold;">Log Determinants</span>
<div class="b" style="left:27px;top:586px;width:136px;height:25px;background:#e0e0e0;"></div>
<div class="b" style="left:230px;top:549px;width:1px;height:63px;background:#e0e0e0;"></div>
<div class="b" style="left:27px;top:585px;width:300px;height:1px;background:#152935;"></div>
<div class="b" style="left:27px;top:607px;width:300px;height:1px;background:#aeaeae;"></div>
<span class="t " style="left:35.00px;top:568.00px;font-size:12px;line-height:14px;letter-spacing:0.244px;color:#264a60;">Kepuasan</span>
<span class="t " style="left:179.50px;top:567.00px;font-size:12px;line-height:14px;letter-spacing:0.247px;color:#264a60;">Rank</span>
<span class="t " style="left:265.50px;top:552.00px;font-size:12px;line-height:14px;letter-spacing:0.326px;color:#264a60;">Log</span>
<span class="t " style="left:242.50px;top:567.00px;font-size:12px;line-height:14px;letter-spacing:0.149px;color:#264a60;">Determinant</span>
<span class="t " style="left:35.00px;top:591.00px;font-size:12px;line-height:14px;letter-spacing:0.130px;color:#264a60;">Tidak puas</span>
<span class="t " style="left:212.00px;top:591.00px;font-size:12px;line-height:14px;letter-spacing:0.326px;color:#010205;">1</span>
<span class="t " style="left:280.00px;top:591.00px;font-size:12px;line-height:14px;letter-spacing:0.162px;color:#010205;">-1.086</span>
<!-- watermark -->
<span class="t seg" style="left:865.78px;top:559.00px;font-size:18.5px;line-height:21px;letter-spacing:0.749px;color:#c2c2c2;">Activate</span>
<span class="t seg" style="left:942.28px;top:559.00px;font-size:18.5px;line-height:21px;letter-spacing:0.984px;color:#c2c2c2;">Windows</span>
<span class="t seg" style="left:865.97px;top:584.00px;font-size:14.6px;line-height:16px;color:#c2c2c2;transform:scaleX(0.948);transform-origin:0 0;">Go</span>
<span class="t seg" style="left:888.97px;top:584.00px;font-size:14.6px;line-height:16px;letter-spacing:1.584px;color:#c2c2c2;">to</span>
<span class="t seg" style="left:907.27px;top:584.00px;font-size:14.6px;line-height:16px;color:#c2c2c2;">Settings</span>
<span class="t seg" style="left:964.37px;top:584.00px;font-size:14.6px;line-height:16px;letter-spacing:1.784px;color:#c2c2c2;">to</span>
<span class="t seg" style="left:982.37px;top:584.00px;font-size:14.6px;line-height:16px;letter-spacing:0.135px;color:#c2c2c2;">activate</span>
<span class="t seg" style="left:1037.97px;top:584.00px;font-size:14.6px;line-height:16px;letter-spacing:0.140px;color:#c2c2c2;">Windows.</span>
</div>
<!-- right scrollbar -->
<div class="b vsb" style="left:1348px;top:92px;height:611px"><div class="b vtr" style="top:15px;height:581px"></div><div class="b vth" style="top:122px;height:25px"></div><div class="b sbtn" style="top:0"><svg width="13" height="14" viewBox="0 0 13 14"><path d="M6.5 3L11 8H2z" fill="url(#arg)"/></svg></div><div class="b sbtn dn" style="bottom:0"><svg width="13" height="14" viewBox="0 0 13 14"><path d="M6.5 9L11 4H2z" fill="url(#arg)"/></svg></div></div>
<!-- windows taskbar -->
<div class="b" style="left:0px;top:727px;width:1366px;height:41px;background:linear-gradient(90deg,#243a44 0%,#23343f 33%,#1e2d3b 50%,#1b2839 62%,#192436 72%,#172033 80%,#172033 100%);"></div>
<div class="b" style="left:0px;top:727px;width:1366px;height:1px;background:#9a9a9a;opacity:.75"></div>
<div class="b" style="left:48px;top:728px;width:344px;height:40px;background:#f2f2f2;"></div>
<div class="b" style="left:48px;top:727px;width:344px;height:1px;background:#9e9e9e;"></div>
<div class="b" style="left:883px;top:728px;width:42px;height:38px;background:#a5662f;"></div>
<div class="b" style="left:1012px;top:728px;width:38px;height:38px;background:#4a5965;"></div>
<div class="b" style="left:1050px;top:728px;width:4px;height:38px;background:#394753;"></div>
<div class="b" style="left:495px;top:766px;width:35px;height:2px;background:#76b9ed;"></div>
<div class="b" style="left:539px;top:766px;width:26px;height:2px;background:#76b9ed;"></div>
<div class="b" style="left:627px;top:766px;width:26px;height:2px;background:#76b9ed;"></div>
<div class="b" style="left:758px;top:766px;width:34px;height:2px;background:#76b9ed;"></div>
<div class="b" style="left:801px;top:766px;width:34px;height:2px;background:#76b9ed;"></div>
<div class="b" style="left:844px;top:766px;width:34px;height:2px;background:#76b9ed;"></div>
<div class="b" style="left:930px;top:766px;width:34px;height:2px;background:#76b9ed;"></div>
<div class="b" style="left:973px;top:766px;width:34px;height:2px;background:#76b9ed;"></div>
<div class="b" style="left:1012px;top:766px;width:42px;height:2px;background:#76b9ed;"></div>
<div class="b" style="left:566px;top:766px;width:8px;height:2px;background:#5a94c4;"></div>
<div class="b" style="left:654px;top:766px;width:7px;height:2px;background:#5a94c4;"></div>
<div class="b" style="left:883px;top:766px;width:42px;height:2px;background:#f57c1a;"></div>
<svg style="left:0;top:727px" width="1366" height="41" viewBox="0 727 1366 41"><defs><linearGradient id="edg" x1="0" y1="0" x2="0.3" y2="1"><stop offset="0" stop-color="#1f8ee0"/><stop offset="0.6" stop-color="#1478d6"/><stop offset="1" stop-color="#0f6ad0"/></linearGradient><linearGradient id="edg2" x1="0" y1="0" x2="1" y2="0.350"><stop offset="0" stop-color="#2ab4f0"/><stop offset="0.500" stop-color="#30c4d4"/><stop offset="1" stop-color="#74ec50"/></linearGradient><linearGradient id="wdg" x1="0" y1="0" x2="0" y2="1"><stop offset="0" stop-color="#d4e6fb"/><stop offset="1" stop-color="#ffffff"/></linearGradient><linearGradient id="xlg" x1="0" y1="0" x2="0" y2="1"><stop offset="0" stop-color="#c8eac0"/><stop offset="1" stop-color="#ffffff"/></linearGradient><linearGradient id="ppg" x1="0" y1="0" x2="0" y2="1"><stop offset="0" stop-color="#ffd8c0"/><stop offset="1" stop-color="#ffffff"/></linearGradient><linearGradient id="mlg" x1="0" y1="0" x2="1" y2="0"><stop offset="0" stop-color="#a02810"/><stop offset="0.5" stop-color="#e85a10"/><stop offset="1" stop-color="#f8a020"/></linearGradient><radialGradient id="spg" cx="40%" cy="35%" r="70%"><stop offset="0" stop-color="#7ab4e6"/><stop offset="1" stop-color="#2a66ae"/></radialGradient><linearGradient id="cld" x1="0" y1="0" x2="0" y2="1"><stop offset="0" stop-color="#ffffff"/><stop offset="1" stop-color="#a8c4ea"/></linearGradient></defs><path d="M16 742.300l7-1v6.700h-7zM24 741.200l8.200-1.200v8h-8.200zM16 749h7v6.700l-7-1zM24 749h8.200v8l-8.200-1.200z" fill="#fff"/><circle cx="71" cy="745.800" r="5" fill="none" stroke="#1a1a1a" stroke-width="1.300"/><path d="M67.500 749.500L60.800 756" stroke="#1a1a1a" stroke-width="1.300"/><circle cx="416" cy="748" r="6.800" fill="none" stroke="#fff" stroke-width="1.700"/><g fill="none" stroke="#fff" stroke-width="1.200"><rect x="457.500" y="744.500" width="8" height="7"/><path d="M456 741v-.5h11v.5M456 754v.5h11v-.5M470.500 740v15"/></g><rect x="469" y="743" width="3" height="3" fill="#fff"/><g><circle cx="512" cy="747.900" r="12.200" fill="url(#edg)"/><path d="M500 746.500A12.200 12.200 0 0 1 524.200 747.500C524.500 751 521.500 752.600 518 752.400C515.500 752.200 513.600 751.200 513.400 750.300C515.600 749.200 516 746.500 514 744.500C510.500 741.200 503.500 742 500 746.500z" fill="url(#edg2)"/><path d="M507.300 748.600C506.800 753.600 511 758.200 517 757.600C519.600 757.300 521.600 756 523 754C519 756 514.600 755.400 512.600 752.500C511.300 750.500 511.600 748 513.500 746.800C511 746 508 746.800 507.300 748.600z" fill="#0d4f9e"/><path d="M510.200 748.900a2.300 2.300 0 0 1 3.700-1.900c-1.100 1.400-.9 3.200.3 4.400c1.500 1.500 4.600 2 8 .7l-.5 1.100c-4 1.700-8.400 1-10.400-1.500c-.8-1-1.100-1.900-1.100-2.800z" fill="#22323c"/></g><g><path d="M545 741.500q0-1.500 1.500-1.500h6l1.500 1.800h11q1.500 0 1.500 1.500v12.700h-21.500z" fill="#f0b400"/><rect x="545" y="742.500" width="21.500" height="14" rx="1" fill="#fcd462"/><path d="M549.500 756.500v-6.500h12.500v6.500h-3.500v-3.500h-5.500v3.500z" fill="#3d94e0"/><rect x="549.500" y="749" width="12.500" height="1.500" fill="#5aaef0"/></g><g><path d="M588 745l12-8.800l12 8.800v14h-24z" fill="#0a64c8"/><path d="M591 744h18v8h-18z" fill="#f4f8ff"/><path d="M588 745.500l12 7l12-7v13.500h-24z" fill="#2a8ae8"/><rect x="594.500" y="747.500" width="27" height="16" rx="8" fill="#2b3640" stroke="#8e949a" stroke-width="0.900"/></g><g><rect x="633" y="736.500" width="21" height="21" fill="url(#wdg)" stroke="#2a5ab8" stroke-width="0.800"/><path d="M644 751l9-2.500l1.500 5l-9 3z" fill="#fff" stroke="#a8c0e8" stroke-width="0.600"/><path d="M634 753.500h10" stroke="#4a7ad0" stroke-width="2.500"/></g><g><path d="M681.500 742v-2.500q0-2 2-2h8q2 0 2 2v2.500" fill="none" stroke="#29b6f6" stroke-width="1.800"/><path d="M676 741.500h23v15q0 3.500-3.500 3.500h-16q-3.500 0-3.500-3.500z" fill="#fafafa"/><rect x="683" y="746" width="4.300" height="4.300" fill="#f25022"/><rect x="688.300" y="746" width="4.300" height="4.300" fill="#7fba00"/><rect x="683" y="751.300" width="4.300" height="4.300" fill="#00a4ef"/><rect x="688.300" y="751.300" width="4.300" height="4.300" fill="#ffb900"/></g><g><path d="M720.500 749.500l8-4.500l4 3.500l-6 5.500z" fill="#4a90d0"/><path d="M728.500 745l6.500-7.300q1.500 1 3 5.500l-5.500 5.300z" fill="#8a2010"/><path d="M735 737.700q2 1 4 7q2 6 4.700 9.500q-3-1.500-5-.5q-2.500 1.500-4.700 4.800q-1.500-3-4-4.500l-3.500-1.500l6-4z" fill="url(#mlg)"/></g><g><circle cx="774.900" cy="747.700" r="12" fill="#e8453c"/><path d="M774.900 747.700L764.500 741.700A12 12 0 0 0 774 759.660z" fill="#2da94f"/><path d="M774.900 747.700L774 759.660A12 12 0 0 0 786.600 745z" fill="#fcc934"/><path d="M764.500 741.700A12 12 0 0 1 786.600 745H774.900z" fill="#e8453c"/><circle cx="774.900" cy="747.700" r="5.600" fill="#fff"/><circle cx="774.900" cy="747.700" r="4.400" fill="#4a8af4"/><circle cx="780.700" cy="753.800" r="7.800" fill="#0b57a4"/></g><g><rect x="806.500" y="736.500" width="21.500" height="21" fill="url(#xlg)" stroke="#2a8a3a" stroke-width="0.800"/><path d="M817 750l10-3l1.500 5.500l-10 3.500z" fill="#fff" stroke="#9ad0a0" stroke-width="0.600"/><path d="M807.500 754h10" stroke="#3a9a4a" stroke-width="2.500"/></g><g><circle cx="869.500" cy="741.500" r="2.800" fill="#5059c9"/><rect x="864" y="745" width="9.500" height="10" rx="2.500" fill="#5059c9"/><circle cx="861.500" cy="740.500" r="3.800" fill="#7b83eb"/><path d="M853 745.500h15v9q0 5.500-6 5.500q-6 0-6-4z" fill="#7b83eb"/><rect x="848.800" y="742.500" width="12.500" height="12.500" rx="1.500" fill="#4b53bc"/><circle cx="868.800" cy="755.800" r="4.800" fill="#fff"/><circle cx="868.800" cy="755.800" r="3.900" fill="#8cc43c"/><path d="M866.700 755.800l1.500 1.600l2.800-3.200" stroke="#fff" stroke-width="1.200" fill="none"/></g><g><path d="M892.800 757.500l1.700-5.500a10.500 10.500 0 1 1 4 3.800z" fill="#fff"/><path d="M894.600 755.800l1.100-3.800a9.200 9.200 0 1 1 3.200 3z" fill="#3cc34e"/><path d="M899.500 741.800q.8-.8 1.600 0l1.200 2.200q.2.800-.8 1.600q-.3.600.8 2q1.300 1.600 2.600 2.200q.6.200 1.200-.6q.7-.8 1.400-.4l2.100 1.200q.5.600-.2 1.700q-1.200 1.500-3 1.100q-3-.6-5.600-3.400q-2.600-3-2.500-5.600q.1-1.200 1.200-2z" fill="#fff"/><circle cx="909.600" cy="753.800" r="8" fill="#f00f0f"/></g><g><rect x="935.500" y="736.500" width="21" height="21" fill="url(#ppg)" stroke="#d24a18" stroke-width="0.900"/><path d="M946 750l9.500-3l1.500 5.500l-9.500 3.500z" fill="#fff" stroke="#f0a080" stroke-width="0.600"/><ellipse cx="951.500" cy="751" rx="2.600" ry="1.800" fill="#f07840"/><path d="M936.500 754h9" stroke="#e8683a" stroke-width="2.500"/></g><circle cx="990" cy="748" r="12" fill="#75aadb"/><circle cx="1032" cy="748" r="12" fill="url(#spg)"/><path d="M1037.500 755.500h4.500M1039.750 753.500v4.200" stroke="#fff" stroke-width="0.900"/><path d="M1084 755.300q-4.500 0-4.500-4q0-3.800 4.200-4.200q1-6.600 7.300-6.600q5 0 6.800 4.500q6.400.2 6.400 5.300q0 5-5 5z" fill="url(#cld)"/><path d="M1159.500 751.300l5.800-6l5.800 6" fill="none" stroke="#f0f0f0" stroke-width="1.500"/><g fill="none" stroke="#d8dce0" stroke-width="1.300"><path d="M1185 754a10.500 10.500 0 0 1 10.500-10.500" opacity=".55"/><path d="M1188.300 754a7.200 7.200 0 0 1 7.200-7.200"/><path d="M1191.600 754a3.900 3.900 0 0 1 3.900-3.900"/></g><circle cx="1194.800" cy="753.600" r="1.400" fill="#fff"/><g fill="none" stroke="#f0f0f0" stroke-width="1.200"><path d="M1205.500 745.500h3l4-3.800v13.600l-4-3.800h-3z"/><path d="M1215 745.500q2 3 0 6M1217.500 743.500q3.200 5 0 10M1220 741.800q4.200 6.700 0 13.400"/></g><g fill="#e8e8e8"><path d="M1231 745l3-2.300l3 2.300l-3 2.300zM1238.500 744l3-2.300l3 2.300l-3 2.300zM1231 751.500l3-2.300l3 2.300l-3 2.300z"/><path d="M1236 745h3M1234 747v2.500" stroke="#e8e8e8" stroke-width="0.800"/></g><circle cx="1240.600" cy="751.400" r="4.200" fill="#e8101c"/><path d="M1238.900 749.700l3.400 3.400M1242.300 749.700l-3.400 3.400" stroke="#fff" stroke-width="1.100"/><path d="M1325 740h16.500v11.500h-10l-3.500 3v-3h-3z" fill="#fff"/><path d="M1328 743.500h11M1328 746h11M1328 748.500h11" stroke="#2a3444" stroke-width="0.900"/><rect x="1330.500" y="747.500" width="20.500" height="16" rx="8" fill="#272c38" stroke="#8a8e96" stroke-width="0.900"/><path d="M1361.500 728v40" stroke="#6a7684" stroke-width="1"/></svg>
<span class="t seg" style="left:87.85px;top:740.00px;font-size:15px;line-height:17px;color:#2a2a2a;transform:scaleX(0.939);transform-origin:0 0;">Type</span>
<span class="t seg" style="left:122.65px;top:740.00px;font-size:15px;line-height:17px;letter-spacing:-0.174px;color:#2a2a2a;">here</span>
<span class="t seg" style="left:155.05px;top:740.00px;font-size:15px;line-height:17px;letter-spacing:1.890px;color:#2a2a2a;">to</span>
<span class="t seg" style="left:173.15px;top:740.00px;font-size:15px;line-height:17px;letter-spacing:-0.364px;color:#2a2a2a;">search</span>
<span class="t seg" style="left:598.50px;top:749.00px;font-size:12px;line-height:14px;letter-spacing:-0.285px;font-weight:bold;color:#fff;">99+</span>
<span class="t seg" style="left:637.00px;top:738.00px;font-size:15px;line-height:17px;font-weight:bold;color:#1a56c0;">W</span>
<span class="t seg" style="left:811.00px;top:738.00px;font-size:15px;line-height:17px;font-weight:bold;color:#1e7a34;font-style:italic;">X</span>
<span class="t seg" style="left:938.50px;top:737.00px;font-size:15px;line-height:17px;font-weight:bold;color:#e0501a;">P</span>
<span class="t seg" style="left:852.00px;top:744.00px;font-size:10px;line-height:11px;font-weight:bold;color:#fff;">T</span>
<span class="t seg" style="left:777.20px;top:748.00px;font-size:11px;line-height:12px;color:#fff;">C</span>
<span class="t seg" style="left:906.30px;top:746.00px;font-size:14px;line-height:16px;color:#fff;">3</span>
<span class="t " style="left:984.80px;top:739.50px;font-size:15px;line-height:17px;color:#fff;font-family:'Liberation Serif',serif;">R</span>
<span class="t " style="left:1024.00px;top:740.00px;font-size:16px;line-height:17px;color:#fff;font-family:'Liberation Serif',serif;">Σ</span>
<span class="t " style="left:1034.50px;top:740.00px;font-size:10px;line-height:11px;color:#fff;font-family:'Liberation Sans',sans-serif;">α</span>
<span class="t seg" style="left:1112.00px;top:740.00px;font-size:15px;line-height:17px;letter-spacing:-1.004px;color:#e4e6ea;">32°C</span>
<span class="t seg" style="left:1257.00px;top:732.00px;font-size:12px;line-height:14px;letter-spacing:-0.358px;color:#fff;">12:16 PM</span>
<span class="t seg" style="left:1252.50px;top:750.00px;font-size:12px;line-height:14px;letter-spacing:-0.206px;color:#fff;">11/29/2022</span>
<span class="t seg" style="left:1334.30px;top:750.00px;font-size:11.5px;line-height:12px;letter-spacing:0.104px;font-weight:bold;color:#fff;">34</span>
</body></html>
